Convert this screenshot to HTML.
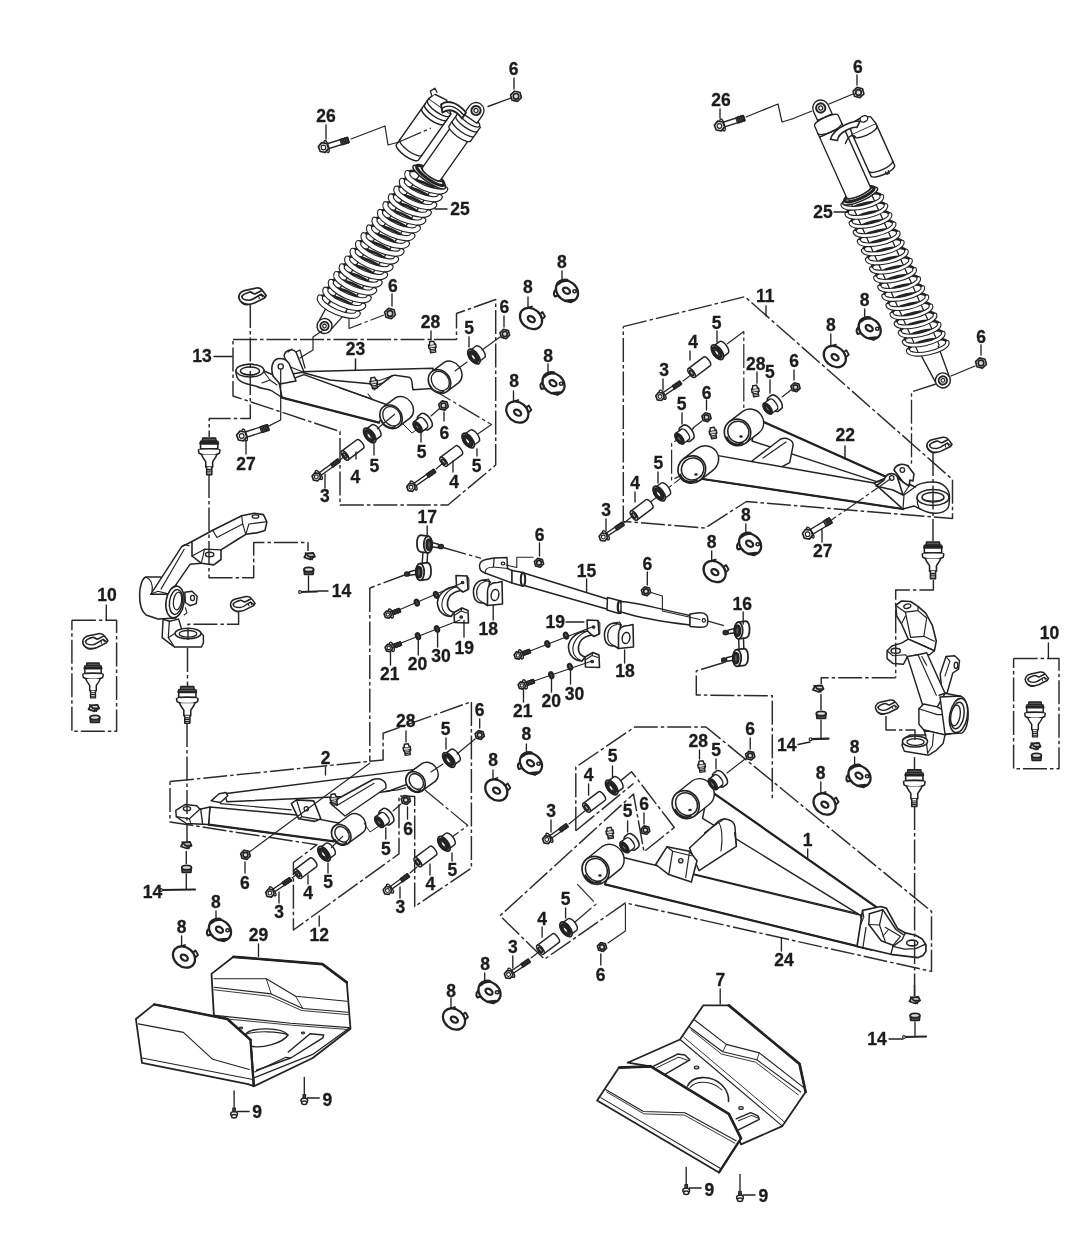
<!DOCTYPE html>
<html><head><meta charset="utf-8"><title>Front suspension parts diagram</title>
<style>
html,body{margin:0;padding:0;background:#fff;}
body{width:1066px;height:1257px;overflow:hidden;font-family:"Liberation Sans",sans-serif;}
svg{display:block;filter:grayscale(1);}
svg text{font-family:"Liberation Sans",sans-serif;font-weight:bold;fill:#1c1c1c;stroke:#1c1c1c;stroke-width:0.3px;}
svg *{stroke-linecap:round;stroke-linejoin:round;}
.dd{fill:none;stroke:#2a2a2a;stroke-dasharray:24 3 3.5 3;stroke-linecap:butt;}
</style></head>
<body>
<svg width="1066" height="1257" viewBox="0 0 1066 1257" stroke="#222" fill="none">
<rect x="0" y="0" width="1066" height="1257" fill="#fff" stroke="none"/>
<g transform="translate(324.5,326) rotate(-54.89) scale(1,1)">
<path d="M 2,-7.5 L 24,-10 L 24,10 L 2,7.5 Z" stroke-width="1.34" fill="#fff" />
<ellipse cx="0" cy="0" rx="7.5" ry="7.5" stroke-width="1.46" fill="#fff" />
<ellipse cx="0" cy="0" rx="4.2" ry="4.2" stroke-width="1.79" fill="#ddd" />
<ellipse cx="0" cy="0" rx="1.8" ry="1.8" stroke-width="1.12" fill="#fff" />
<path d="M 22,-9 L 180,-9 M 22,9 L 180,9" stroke-width="1.12" fill="none" />
<rect x="22" y="-9" width="158" height="18" fill="#fff" stroke="none"/>
<path d="M 22,-9 L 180,-9 M 22,9 L 180,9" stroke-width="1.12" fill="none" />
<g transform="rotate(-12 177.0 0)">
<path d="M 177.0,-20.5 A 7 20.5 0 0 1 177.0,20.5" stroke-width="2.69" fill="none" />
</g>
<g transform="rotate(-12 167.5 0)">
<path d="M 167.5,-20.5 A 7 20.5 0 0 1 167.5,20.5" stroke-width="2.69" fill="none" />
</g>
<g transform="rotate(-12 158.0 0)">
<path d="M 158.0,-20.5 A 7 20.5 0 0 1 158.0,20.5" stroke-width="2.69" fill="none" />
</g>
<g transform="rotate(-12 148.5 0)">
<path d="M 148.5,-20.5 A 7 20.5 0 0 1 148.5,20.5" stroke-width="2.69" fill="none" />
</g>
<g transform="rotate(-12 139.0 0)">
<path d="M 139.0,-20.5 A 7 20.5 0 0 1 139.0,20.5" stroke-width="2.69" fill="none" />
</g>
<g transform="rotate(-12 129.5 0)">
<path d="M 129.5,-20.5 A 7 20.5 0 0 1 129.5,20.5" stroke-width="2.69" fill="none" />
</g>
<g transform="rotate(-12 120.0 0)">
<path d="M 120.0,-20.5 A 7 20.5 0 0 1 120.0,20.5" stroke-width="2.69" fill="none" />
</g>
<g transform="rotate(-12 110.5 0)">
<path d="M 110.5,-20.5 A 7 20.5 0 0 1 110.5,20.5" stroke-width="2.69" fill="none" />
</g>
<g transform="rotate(-12 101.0 0)">
<path d="M 101.0,-20.5 A 7 20.5 0 0 1 101.0,20.5" stroke-width="2.69" fill="none" />
</g>
<g transform="rotate(-12 91.5 0)">
<path d="M 91.5,-20.5 A 7 20.5 0 0 1 91.5,20.5" stroke-width="2.69" fill="none" />
</g>
<g transform="rotate(-12 82.0 0)">
<path d="M 82.0,-20.5 A 7 20.5 0 0 1 82.0,20.5" stroke-width="2.69" fill="none" />
</g>
<g transform="rotate(-12 72.5 0)">
<path d="M 72.5,-20.5 A 7 20.5 0 0 1 72.5,20.5" stroke-width="2.69" fill="none" />
</g>
<g transform="rotate(-12 63.0 0)">
<path d="M 63.0,-20.5 A 7 20.5 0 0 1 63.0,20.5" stroke-width="2.69" fill="none" />
</g>
<g transform="rotate(-12 53.5 0)">
<path d="M 53.5,-20.5 A 7 20.5 0 0 1 53.5,20.5" stroke-width="2.69" fill="none" />
</g>
<g transform="rotate(-12 44.0 0)">
<path d="M 44.0,-20.5 A 7 20.5 0 0 1 44.0,20.5" stroke-width="2.69" fill="none" />
</g>
<g transform="rotate(-12 34.5 0)">
<path d="M 34.5,-20.5 A 7 20.5 0 0 1 34.5,20.5" stroke-width="2.69" fill="none" />
</g>
<g transform="rotate(-12 25.0 0)">
<path d="M 25.0,-20.5 A 7 20.5 0 0 1 25.0,20.5" stroke-width="2.69" fill="none" />
</g>
<g transform="rotate(-12 177.0 0)">
<path d="M 177.0,-20.5 A 7 20.5 0 0 0 177.0,20.5" stroke="#222" stroke-width="6.2" fill="none"/>
<path d="M 177.0,-20.5 A 7 20.5 0 0 0 177.0,20.5" stroke="#fff" stroke-width="4.0" fill="none"/>
</g>
<g transform="rotate(-12 167.5 0)">
<path d="M 167.5,-20.5 A 7 20.5 0 0 0 167.5,20.5" stroke="#222" stroke-width="6.2" fill="none"/>
<path d="M 167.5,-20.5 A 7 20.5 0 0 0 167.5,20.5" stroke="#fff" stroke-width="4.0" fill="none"/>
</g>
<g transform="rotate(-12 158.0 0)">
<path d="M 158.0,-20.5 A 7 20.5 0 0 0 158.0,20.5" stroke="#222" stroke-width="6.2" fill="none"/>
<path d="M 158.0,-20.5 A 7 20.5 0 0 0 158.0,20.5" stroke="#fff" stroke-width="4.0" fill="none"/>
</g>
<g transform="rotate(-12 148.5 0)">
<path d="M 148.5,-20.5 A 7 20.5 0 0 0 148.5,20.5" stroke="#222" stroke-width="6.2" fill="none"/>
<path d="M 148.5,-20.5 A 7 20.5 0 0 0 148.5,20.5" stroke="#fff" stroke-width="4.0" fill="none"/>
</g>
<g transform="rotate(-12 139.0 0)">
<path d="M 139.0,-20.5 A 7 20.5 0 0 0 139.0,20.5" stroke="#222" stroke-width="6.2" fill="none"/>
<path d="M 139.0,-20.5 A 7 20.5 0 0 0 139.0,20.5" stroke="#fff" stroke-width="4.0" fill="none"/>
</g>
<g transform="rotate(-12 129.5 0)">
<path d="M 129.5,-20.5 A 7 20.5 0 0 0 129.5,20.5" stroke="#222" stroke-width="6.2" fill="none"/>
<path d="M 129.5,-20.5 A 7 20.5 0 0 0 129.5,20.5" stroke="#fff" stroke-width="4.0" fill="none"/>
</g>
<g transform="rotate(-12 120.0 0)">
<path d="M 120.0,-20.5 A 7 20.5 0 0 0 120.0,20.5" stroke="#222" stroke-width="6.2" fill="none"/>
<path d="M 120.0,-20.5 A 7 20.5 0 0 0 120.0,20.5" stroke="#fff" stroke-width="4.0" fill="none"/>
</g>
<g transform="rotate(-12 110.5 0)">
<path d="M 110.5,-20.5 A 7 20.5 0 0 0 110.5,20.5" stroke="#222" stroke-width="6.2" fill="none"/>
<path d="M 110.5,-20.5 A 7 20.5 0 0 0 110.5,20.5" stroke="#fff" stroke-width="4.0" fill="none"/>
</g>
<g transform="rotate(-12 101.0 0)">
<path d="M 101.0,-20.5 A 7 20.5 0 0 0 101.0,20.5" stroke="#222" stroke-width="6.2" fill="none"/>
<path d="M 101.0,-20.5 A 7 20.5 0 0 0 101.0,20.5" stroke="#fff" stroke-width="4.0" fill="none"/>
</g>
<g transform="rotate(-12 91.5 0)">
<path d="M 91.5,-20.5 A 7 20.5 0 0 0 91.5,20.5" stroke="#222" stroke-width="6.2" fill="none"/>
<path d="M 91.5,-20.5 A 7 20.5 0 0 0 91.5,20.5" stroke="#fff" stroke-width="4.0" fill="none"/>
</g>
<g transform="rotate(-12 82.0 0)">
<path d="M 82.0,-20.5 A 7 20.5 0 0 0 82.0,20.5" stroke="#222" stroke-width="6.2" fill="none"/>
<path d="M 82.0,-20.5 A 7 20.5 0 0 0 82.0,20.5" stroke="#fff" stroke-width="4.0" fill="none"/>
</g>
<g transform="rotate(-12 72.5 0)">
<path d="M 72.5,-20.5 A 7 20.5 0 0 0 72.5,20.5" stroke="#222" stroke-width="6.2" fill="none"/>
<path d="M 72.5,-20.5 A 7 20.5 0 0 0 72.5,20.5" stroke="#fff" stroke-width="4.0" fill="none"/>
</g>
<g transform="rotate(-12 63.0 0)">
<path d="M 63.0,-20.5 A 7 20.5 0 0 0 63.0,20.5" stroke="#222" stroke-width="6.2" fill="none"/>
<path d="M 63.0,-20.5 A 7 20.5 0 0 0 63.0,20.5" stroke="#fff" stroke-width="4.0" fill="none"/>
</g>
<g transform="rotate(-12 53.5 0)">
<path d="M 53.5,-20.5 A 7 20.5 0 0 0 53.5,20.5" stroke="#222" stroke-width="6.2" fill="none"/>
<path d="M 53.5,-20.5 A 7 20.5 0 0 0 53.5,20.5" stroke="#fff" stroke-width="4.0" fill="none"/>
</g>
<g transform="rotate(-12 44.0 0)">
<path d="M 44.0,-20.5 A 7 20.5 0 0 0 44.0,20.5" stroke="#222" stroke-width="6.2" fill="none"/>
<path d="M 44.0,-20.5 A 7 20.5 0 0 0 44.0,20.5" stroke="#fff" stroke-width="4.0" fill="none"/>
</g>
<g transform="rotate(-12 34.5 0)">
<path d="M 34.5,-20.5 A 7 20.5 0 0 0 34.5,20.5" stroke="#222" stroke-width="6.2" fill="none"/>
<path d="M 34.5,-20.5 A 7 20.5 0 0 0 34.5,20.5" stroke="#fff" stroke-width="4.0" fill="none"/>
</g>
<g transform="rotate(-12 25.0 0)">
<path d="M 25.0,-20.5 A 7 20.5 0 0 0 25.0,20.5" stroke="#222" stroke-width="6.2" fill="none"/>
<path d="M 25.0,-20.5 A 7 20.5 0 0 0 25.0,20.5" stroke="#fff" stroke-width="4.0" fill="none"/>
</g>
<ellipse cx="182" cy="0" rx="5" ry="19.5" stroke-width="1.57" fill="#fff" />
<ellipse cx="184" cy="0" rx="4.2" ry="16.5" stroke-width="3.14" fill="#fff" />
<ellipse cx="186" cy="0" rx="3.4" ry="12.5" stroke-width="1.34" fill="#fff" />
<path d="M 186,-11 L 237.42456225644565,-11 L 237.42456225644565,11 L 186,11 A 3.4 11 0 0 1 186,-11" stroke-width="1.34" fill="#fff" />
<path d="M 240.42456225644565,-13.2 L 235.42456225644565,-13.2 A 4 13.2 0 0 0 235.42456225644565,13.2 L 240.42456225644565,13.2" stroke-width="1.34" fill="#fff" />
<path d="M 246.42456225644565,-13.2 L 241.42456225644565,-13.2 A 4 13.2 0 0 0 241.42456225644565,13.2 L 246.42456225644565,13.2" stroke-width="1.34" fill="#fff" />
<path d="M 252.42456225644565,-13.2 L 247.42456225644565,-13.2 A 4 13.2 0 0 0 247.42456225644565,13.2 L 252.42456225644565,13.2" stroke-width="1.34" fill="#fff" />
<path d="M 252.42456225644565,-12 A 4 12 0 0 0 252.42456225644565,12 A 4 12 0 0 0 252.42456225644565,-12" stroke-width="1.34" fill="#fff" />
<path d="M 253.42456225644565,-8 L 263.42456225644565,-8 A 8 8 0 0 1 263.42456225644565,8 L 253.42456225644565,8 Z" stroke-width="1.34" fill="#fff" />
<ellipse cx="263.42456225644565" cy="0" rx="4.6" ry="4.6" stroke-width="2.02" fill="#ddd" />
<ellipse cx="263.42456225644565" cy="0" rx="2" ry="2" stroke-width="1.12" fill="#fff" />
</g>
<g transform="translate(942.9,380.4) rotate(-114.16) scale(1,1)">
<path d="M 2,-7.5 L 36,-10 L 36,10 L 2,7.5 Z" stroke-width="1.34" fill="#fff" />
<ellipse cx="0" cy="0" rx="7.5" ry="7.5" stroke-width="1.46" fill="#fff" />
<ellipse cx="0" cy="0" rx="4.2" ry="4.2" stroke-width="1.79" fill="#ddd" />
<ellipse cx="0" cy="0" rx="1.8" ry="1.8" stroke-width="1.12" fill="#fff" />
<path d="M 34,-11 L 200,-11 M 34,11 L 200,11" stroke-width="1.12" fill="none" />
<rect x="34" y="-11" width="166" height="22" fill="#fff" stroke="none"/>
<path d="M 34,-11 L 200,-11 M 34,11 L 200,11" stroke-width="1.12" fill="none" />
<g transform="rotate(12 197.0 0)">
<path d="M 197.0,-20 A 6.5 20 0 0 1 197.0,20" stroke-width="2.69" fill="none" />
</g>
<g transform="rotate(12 187.0 0)">
<path d="M 187.0,-20 A 6.5 20 0 0 1 187.0,20" stroke-width="2.69" fill="none" />
</g>
<g transform="rotate(12 177.0 0)">
<path d="M 177.0,-20 A 6.5 20 0 0 1 177.0,20" stroke-width="2.69" fill="none" />
</g>
<g transform="rotate(12 167.0 0)">
<path d="M 167.0,-20 A 6.5 20 0 0 1 167.0,20" stroke-width="2.69" fill="none" />
</g>
<g transform="rotate(12 157.0 0)">
<path d="M 157.0,-20 A 6.5 20 0 0 1 157.0,20" stroke-width="2.69" fill="none" />
</g>
<g transform="rotate(12 147.0 0)">
<path d="M 147.0,-20 A 6.5 20 0 0 1 147.0,20" stroke-width="2.69" fill="none" />
</g>
<g transform="rotate(12 137.0 0)">
<path d="M 137.0,-20 A 6.5 20 0 0 1 137.0,20" stroke-width="2.69" fill="none" />
</g>
<g transform="rotate(12 127.0 0)">
<path d="M 127.0,-20 A 6.5 20 0 0 1 127.0,20" stroke-width="2.69" fill="none" />
</g>
<g transform="rotate(12 117.0 0)">
<path d="M 117.0,-20 A 6.5 20 0 0 1 117.0,20" stroke-width="2.69" fill="none" />
</g>
<g transform="rotate(12 107.0 0)">
<path d="M 107.0,-20 A 6.5 20 0 0 1 107.0,20" stroke-width="2.69" fill="none" />
</g>
<g transform="rotate(12 97.0 0)">
<path d="M 97.0,-20 A 6.5 20 0 0 1 97.0,20" stroke-width="2.69" fill="none" />
</g>
<g transform="rotate(12 87.0 0)">
<path d="M 87.0,-20 A 6.5 20 0 0 1 87.0,20" stroke-width="2.69" fill="none" />
</g>
<g transform="rotate(12 77.0 0)">
<path d="M 77.0,-20 A 6.5 20 0 0 1 77.0,20" stroke-width="2.69" fill="none" />
</g>
<g transform="rotate(12 67.0 0)">
<path d="M 67.0,-20 A 6.5 20 0 0 1 67.0,20" stroke-width="2.69" fill="none" />
</g>
<g transform="rotate(12 57.0 0)">
<path d="M 57.0,-20 A 6.5 20 0 0 1 57.0,20" stroke-width="2.69" fill="none" />
</g>
<g transform="rotate(12 47.0 0)">
<path d="M 47.0,-20 A 6.5 20 0 0 1 47.0,20" stroke-width="2.69" fill="none" />
</g>
<g transform="rotate(12 37.0 0)">
<path d="M 37.0,-20 A 6.5 20 0 0 1 37.0,20" stroke-width="2.69" fill="none" />
</g>
<g transform="rotate(12 197.0 0)">
<path d="M 197.0,-20 A 6.5 20 0 0 0 197.0,20" stroke="#222" stroke-width="4.8" fill="none"/>
<path d="M 197.0,-20 A 6.5 20 0 0 0 197.0,20" stroke="#fff" stroke-width="2.5999999999999996" fill="none"/>
</g>
<g transform="rotate(12 187.0 0)">
<path d="M 187.0,-20 A 6.5 20 0 0 0 187.0,20" stroke="#222" stroke-width="4.8" fill="none"/>
<path d="M 187.0,-20 A 6.5 20 0 0 0 187.0,20" stroke="#fff" stroke-width="2.5999999999999996" fill="none"/>
</g>
<g transform="rotate(12 177.0 0)">
<path d="M 177.0,-20 A 6.5 20 0 0 0 177.0,20" stroke="#222" stroke-width="4.8" fill="none"/>
<path d="M 177.0,-20 A 6.5 20 0 0 0 177.0,20" stroke="#fff" stroke-width="2.5999999999999996" fill="none"/>
</g>
<g transform="rotate(12 167.0 0)">
<path d="M 167.0,-20 A 6.5 20 0 0 0 167.0,20" stroke="#222" stroke-width="4.8" fill="none"/>
<path d="M 167.0,-20 A 6.5 20 0 0 0 167.0,20" stroke="#fff" stroke-width="2.5999999999999996" fill="none"/>
</g>
<g transform="rotate(12 157.0 0)">
<path d="M 157.0,-20 A 6.5 20 0 0 0 157.0,20" stroke="#222" stroke-width="4.8" fill="none"/>
<path d="M 157.0,-20 A 6.5 20 0 0 0 157.0,20" stroke="#fff" stroke-width="2.5999999999999996" fill="none"/>
</g>
<g transform="rotate(12 147.0 0)">
<path d="M 147.0,-20 A 6.5 20 0 0 0 147.0,20" stroke="#222" stroke-width="4.8" fill="none"/>
<path d="M 147.0,-20 A 6.5 20 0 0 0 147.0,20" stroke="#fff" stroke-width="2.5999999999999996" fill="none"/>
</g>
<g transform="rotate(12 137.0 0)">
<path d="M 137.0,-20 A 6.5 20 0 0 0 137.0,20" stroke="#222" stroke-width="4.8" fill="none"/>
<path d="M 137.0,-20 A 6.5 20 0 0 0 137.0,20" stroke="#fff" stroke-width="2.5999999999999996" fill="none"/>
</g>
<g transform="rotate(12 127.0 0)">
<path d="M 127.0,-20 A 6.5 20 0 0 0 127.0,20" stroke="#222" stroke-width="4.8" fill="none"/>
<path d="M 127.0,-20 A 6.5 20 0 0 0 127.0,20" stroke="#fff" stroke-width="2.5999999999999996" fill="none"/>
</g>
<g transform="rotate(12 117.0 0)">
<path d="M 117.0,-20 A 6.5 20 0 0 0 117.0,20" stroke="#222" stroke-width="4.8" fill="none"/>
<path d="M 117.0,-20 A 6.5 20 0 0 0 117.0,20" stroke="#fff" stroke-width="2.5999999999999996" fill="none"/>
</g>
<g transform="rotate(12 107.0 0)">
<path d="M 107.0,-20 A 6.5 20 0 0 0 107.0,20" stroke="#222" stroke-width="4.8" fill="none"/>
<path d="M 107.0,-20 A 6.5 20 0 0 0 107.0,20" stroke="#fff" stroke-width="2.5999999999999996" fill="none"/>
</g>
<g transform="rotate(12 97.0 0)">
<path d="M 97.0,-20 A 6.5 20 0 0 0 97.0,20" stroke="#222" stroke-width="4.8" fill="none"/>
<path d="M 97.0,-20 A 6.5 20 0 0 0 97.0,20" stroke="#fff" stroke-width="2.5999999999999996" fill="none"/>
</g>
<g transform="rotate(12 87.0 0)">
<path d="M 87.0,-20 A 6.5 20 0 0 0 87.0,20" stroke="#222" stroke-width="4.8" fill="none"/>
<path d="M 87.0,-20 A 6.5 20 0 0 0 87.0,20" stroke="#fff" stroke-width="2.5999999999999996" fill="none"/>
</g>
<g transform="rotate(12 77.0 0)">
<path d="M 77.0,-20 A 6.5 20 0 0 0 77.0,20" stroke="#222" stroke-width="4.8" fill="none"/>
<path d="M 77.0,-20 A 6.5 20 0 0 0 77.0,20" stroke="#fff" stroke-width="2.5999999999999996" fill="none"/>
</g>
<g transform="rotate(12 67.0 0)">
<path d="M 67.0,-20 A 6.5 20 0 0 0 67.0,20" stroke="#222" stroke-width="4.8" fill="none"/>
<path d="M 67.0,-20 A 6.5 20 0 0 0 67.0,20" stroke="#fff" stroke-width="2.5999999999999996" fill="none"/>
</g>
<g transform="rotate(12 57.0 0)">
<path d="M 57.0,-20 A 6.5 20 0 0 0 57.0,20" stroke="#222" stroke-width="4.8" fill="none"/>
<path d="M 57.0,-20 A 6.5 20 0 0 0 57.0,20" stroke="#fff" stroke-width="2.5999999999999996" fill="none"/>
</g>
<g transform="rotate(12 47.0 0)">
<path d="M 47.0,-20 A 6.5 20 0 0 0 47.0,20" stroke="#222" stroke-width="4.8" fill="none"/>
<path d="M 47.0,-20 A 6.5 20 0 0 0 47.0,20" stroke="#fff" stroke-width="2.5999999999999996" fill="none"/>
</g>
<g transform="rotate(12 37.0 0)">
<path d="M 37.0,-20 A 6.5 20 0 0 0 37.0,20" stroke="#222" stroke-width="4.8" fill="none"/>
<path d="M 37.0,-20 A 6.5 20 0 0 0 37.0,20" stroke="#fff" stroke-width="2.5999999999999996" fill="none"/>
</g>
<ellipse cx="202" cy="0" rx="5" ry="19" stroke-width="1.57" fill="#fff" />
<ellipse cx="204" cy="0" rx="4.2" ry="16" stroke-width="3.14" fill="#fff" />
<ellipse cx="206" cy="0" rx="3.4" ry="14.5" stroke-width="1.34" fill="#fff" />
<path d="M 206,-13 L 272.5541826871631,-13 L 272.5541826871631,13 L 206,13 A 3.4 13 0 0 1 206,-13" stroke-width="1.34" fill="#fff" />
<path d="M 272.5541826871631,-13 L 284.5541826871631,-13 C 289.5541826871631,-13 289.5541826871631,13 284.5541826871631,13 L 272.5541826871631,13 Z" stroke-width="1.34" fill="#fff" />
<path d="M 276.5541826871631,-13 A 4 13 0 0 0 276.5541826871631,13" stroke-width="1.23" fill="none" />
<path d="M 288.5541826871631,-8 L 298.5541826871631,-8 A 8 8 0 0 1 298.5541826871631,8 L 288.5541826871631,8 Z" stroke-width="1.34" fill="#fff" />
<ellipse cx="298.5541826871631" cy="0" rx="4.6" ry="4.6" stroke-width="2.02" fill="#ddd" />
<ellipse cx="298.5541826871631" cy="0" rx="2" ry="2" stroke-width="1.12" fill="#fff" />
</g>
<g transform="translate(324.5,326) rotate(-54.89) scale(1,1)">
<path d="M 190,-45.5 L 246,-45.5 L 246,-18.5 L 190,-18.5 A 4.5 13.5 0 0 1 190,-45.5 Z" stroke-width="1.46" fill="#fff" />
<path d="M 196,-45.5 A 4.5 13.5 0 0 0 196,-18.5" stroke-width="1.34" fill="none" />
<path d="M 234,-45.5 A 4.5 13.5 0 0 0 234,-18.5" stroke-width="1.46" fill="none" />
<path d="M 239,-45.5 A 4.5 13.5 0 0 0 239,-18.5" stroke-width="1.46" fill="none" />
<path d="M 244,-45.5 A 4.5 13.5 0 0 0 244,-18.5" stroke-width="1.46" fill="none" />
<path d="M 246,-45.5 L 253,-43.5 L 255,-30 L 246,-18.5" stroke-width="1.46" fill="#fff" />
<path d="M 250,-44.5 l 3,-4 l 5,2 l -2,4" stroke-width="1.34" fill="#fff" />
</g>
<path d="M 441,104.5 C 447,99.5 457,102 466,112.5 L 462,118.5 C 456,110 449,108.5 442.5,112.5 Z" stroke-width="1.9" fill="#fff" />
<path d="M 442,108.5 C 448,104 456,106 464,115.5" stroke-width="1.34" fill="none" />
<g transform="translate(323.5,147.5) rotate(-17) scale(1,1)">
<path d="M 3,-2.5 L 26,-2.5 L 26,2.5 L 3,2.5 Z" stroke-width="1.34" fill="#fff" />
<path d="M 18,-2.8 L 26,-2.8 L 26,2.8 L 18,2.8 Z" stroke-width="1.12" fill="#555" />
<path d="M 25.1,-3.0 L 25.1,3.0" stroke-width="1.34" fill="none" />
<path d="M 23.3,-3.0 L 23.3,3.0" stroke-width="1.34" fill="none" />
<path d="M 21.5,-3.0 L 21.5,3.0" stroke-width="1.34" fill="none" />
<path d="M 19.700000000000003,-3.0 L 19.700000000000003,3.0" stroke-width="1.34" fill="none" />
<ellipse cx="3.2" cy="0" rx="1.8" ry="6.2" stroke-width="1.46" fill="#fff" />
</g>
<polygon points="328.6,148.4 325.3,152.4 320.2,151.5 318.4,146.6 321.7,142.6 326.8,143.5" stroke-width="1.68" fill="#fff" />
<ellipse cx="323.5" cy="147.5" rx="2.3400000000000003" ry="2.3400000000000003" stroke-width="1.12" fill="#fff" />
<polyline points="351,139 385,126 388,145 399,142" fill="none" stroke-width="1.2"/>
<polyline points="399,142 431,128" class="dd" stroke-width="1.34"/>
<line x1="326" y1="125" x2="326" y2="139" stroke-width="1.34" />
<line x1="488" y1="106.5" x2="511" y2="98" stroke-width="1.34" />
<polygon points="521.4,97.7 517.4,101.4 512.0,100.1 510.6,94.9 514.6,91.2 520.0,92.5" stroke-width="1.68" fill="#fff" />
<ellipse cx="516" cy="96.3" rx="2.8" ry="2.8" stroke-width="1.68" fill="#d8d8d8" />
<line x1="514" y1="78" x2="514" y2="89" stroke-width="1.34" />
<polyline points="349,318 349,328.5 384,315" class="dd" stroke-width="1.2"/>
<polygon points="395.4,314.9 391.4,318.6 386.0,317.3 384.6,312.1 388.6,308.4 394.0,309.7" stroke-width="1.68" fill="#fff" />
<ellipse cx="390" cy="313.5" rx="2.8" ry="2.8" stroke-width="1.68" fill="#d8d8d8" />
<line x1="392" y1="294" x2="392" y2="306" stroke-width="1.34" />
<line x1="435" y1="209" x2="447" y2="209" stroke-width="1.46" />
<polyline points="233,339.5 456.5,339.5 456.5,313.5 495.7,299.5 495.7,465 448,505 340,505 340,431.5 233,396 233,339.5" class="dd" stroke-width="1.46"/>
<line x1="214" y1="356.4" x2="232" y2="356.4" stroke-width="1.46" />
<g transform="translate(252.4,296) rotate(0) scale(1.0,1.0)">
<path d="M -13.6,0.5 C -13,-3 -10,-5 -7,-5.6 L 4,-8 C 7,-8.3 9,-7 10,-5.5 L 13.8,-0.5 L 12.2,2 L 2,7 C -1,8.2 -5,8.6 -8,7.6 C -11,6.5 -13.4,4 -13.6,0.5 Z" stroke-width="1.68" fill="#fff" />
<path d="M -10.5,0.5 C -10,-1.5 -6,-3 -2.5,-4 C -0.5,-4.3 1,-1.5 3,-2.2 L 9,-5.3" stroke-width="1.79" fill="none" />
<path d="M -10.5,0.5 C -10.5,3 -7,4.2 -3,4.2 C 0,4 2,2.5 4,1 L 8.6,-1.8 L 12.2,0.6" stroke-width="1.57" fill="none" />
<path d="M -13.6,0.5 L -13.2,2.6 C -12.5,6 -9,8.8 -6,9 L -3,8.6" stroke-width="1.23" fill="none" />
<path d="M 6,-0.3 L 7,2.5 M 9,-1.7 L 10,1" stroke-width="1.12" fill="none" />
</g>
<g transform="translate(209.2,438) rotate(0) scale(1.08,1.08)">
<path d="M -6,0 L 6,0 L 6.5,3 L -6.5,3 Z" stroke-width="1.34" fill="#555" />
<path d="M -8,3 L 8,3 L 8,10 L -8,10 Z" stroke-width="1.46" fill="#fff" />
<path d="M -8,5 L 8,5" stroke-width="2.46" fill="none" />
<path d="M -10,11 C -10,9.5 10,9.5 10,11 L 9.5,14 C 6,16.5 -6,16.5 -9.5,14 Z" stroke-width="1.46" fill="#fff" />
<path d="M -7,15.5 C -6,19 -4,20 -3.2,22 L -3.2,27 L 3.2,27 L 3.2,22 C 4,20 6,19 7,15.5" stroke-width="1.46" fill="#fff" />
<path d="M -2.4,27 L -2.4,34 L 2.4,34 L 2.4,27" stroke-width="1.34" fill="#fff" />
<path d="M -2.4,29 L 2.4,29 M -2.4,30.7 L 2.4,30.7 M -2.4,32.4 L 2.4,32.4" stroke-width="1.12" fill="none" />
</g>
<path d="M 300,371.8 L 433,368.3 L 432,388.6 L 413,389.8 C 411.5,384 413,378 409,377.3 L 395,375.2 C 388,374.8 386,384 378,384.4 L 330,380 Z" stroke-width="1.46" fill="#fff" />
<path d="M 374,390 L 392,376" stroke-width="1.12" fill="none" />
<path d="M 304,374.6 L 389,405.5 L 379,422.6 L 282,397.6 L 277,384.5 Z" stroke-width="1.46" fill="#fff" />
<path d="M 282,397.6 L 379,422.6" stroke-width="2.24" fill="none" />
<path d="M 340,388 L 372,399 L 368,394" stroke-width="1.12" fill="none" />
<path d="M 236,371 C 236,367 242,364.3 250,364.3 C 258,364.3 263.5,367 264,371 L 278,377 L 282,397.5 L 272,391 C 268,388.5 262,389 258,387 C 252,384 244,385 239,380 C 236.5,377.5 236,374 236,371 Z" stroke-width="1.46" fill="#fff" />
<ellipse cx="250" cy="370.6" rx="14" ry="6.3" stroke-width="1.46" fill="#fff" />
<ellipse cx="250" cy="371" rx="9.6" ry="4.1" stroke-width="1.46" fill="#fff" />
<path d="M 240.6,371.8 C 242,375.5 258,375.5 259.4,371.8" stroke-width="1.12" fill="none" />
<path d="M 264,372 L 270,380 L 262,383 M 270,380 L 277,385" stroke-width="1.12" fill="none" />
<path d="M 284,356 C 285,350 292,348 296,352 L 304,372 L 292,374 Z" stroke-width="1.46" fill="#fff" />
<path d="M 288,352 L 292,349 M 296,352 L 300,350 L 305,368" stroke-width="1.23" fill="none" />
<path d="M 273,376 C 270,366 273,358.5 280,358.5 C 286,358.5 289,362 290.5,367 L 296,381 L 280,384 Z" stroke-width="1.57" fill="#fff" />
<ellipse cx="280.7" cy="366.5" rx="2.6" ry="2.6" stroke-width="1.34" fill="#fff" />
<path d="M 290.5,367 L 303,372" stroke-width="1.12" fill="none" />
<path d="M 446.8,391.6 L 458.8,382.6 A 10.5 12.5 -36 0 0 444.2,362.4 L 432.2,371.4 Z" stroke-width="1.46" fill="#fff" />
<ellipse cx="439.5" cy="381.5" rx="10.5" ry="12.5" stroke-width="1.57" fill="#fff" transform="rotate(-36 439.5 381.5)" />
<ellipse cx="440.3" cy="381.0" rx="8.3" ry="10.3" stroke-width="1.34" fill="#fff" transform="rotate(-36 440.3 381.0)" />
<path d="M 430.0,385.5 A 8.3 10.3 -36 0 0 443.5,391.5" stroke-width="1.79" fill="none" />
<path d="M 398.3,426.9 L 410.3,417.9 A 10.5 12.5 -36 0 0 395.7,397.7 L 383.7,406.7 Z" stroke-width="1.46" fill="#fff" />
<ellipse cx="391" cy="416.8" rx="10.5" ry="12.5" stroke-width="1.57" fill="#fff" transform="rotate(-36 391 416.8)" />
<ellipse cx="391.8" cy="416.3" rx="8.3" ry="10.3" stroke-width="1.34" fill="#fff" transform="rotate(-36 391.8 416.3)" />
<path d="M 381.5,420.8 A 8.3 10.3 -36 0 0 395,426.8" stroke-width="1.79" fill="none" />
<g transform="translate(374,383.5) rotate(-12) scale(1,1)">
<path d="M -3.6,-3 L 3.6,-3 L 3.6,0.5 L -3.6,0.5 Z" stroke-width="1.46" fill="#ccc" />
<path d="M -2.6,-3 L -2,-6 L 2,-6 L 2.6,-3" stroke-width="1.46" fill="#fff" />
<path d="M -2.6,0.5 L -2.6,5 L 2.6,5 L 2.6,0.5" stroke-width="1.34" fill="#fff" />
<path d="M -2.6,2 L 2.6,2 M -2.6,3.5 L 2.6,3.5" stroke-width="1.01" fill="none" />
</g>
<line x1="378" y1="381" x2="392" y2="376" stroke-width="1.12" />
<line x1="355.5" y1="359" x2="355.5" y2="370" stroke-width="1.46" />
<g transform="translate(432.5,347.5) rotate(-8) scale(1,1)">
<path d="M -3.6,-3 L 3.6,-3 L 3.6,0.5 L -3.6,0.5 Z" stroke-width="1.46" fill="#ccc" />
<path d="M -2.6,-3 L -2,-6 L 2,-6 L 2.6,-3" stroke-width="1.46" fill="#fff" />
<path d="M -2.6,0.5 L -2.6,5 L 2.6,5 L 2.6,0.5" stroke-width="1.34" fill="#fff" />
<path d="M -2.6,2 L 2.6,2 M -2.6,3.5 L 2.6,3.5" stroke-width="1.01" fill="none" />
</g>
<line x1="431" y1="331" x2="431" y2="340" stroke-width="1.34" />
<g transform="translate(474.7,356) rotate(-37) scale(1,1)">
<path d="M 0,-7.2 L 7,-7.2 A 3.2 7.2 0 0 1 7,7.2 L 0,7.2 Z" stroke-width="1.46" fill="#fff" />
<ellipse cx="-1" cy="0" rx="4.3" ry="8.6" stroke-width="1.79" fill="#fff" />
<ellipse cx="-1.6" cy="0" rx="3.0" ry="5.8" stroke-width="3.36" fill="#888" />
<ellipse cx="-1.8" cy="0" rx="1.4" ry="3.0" stroke-width="1.12" fill="#fff" />
</g>
<line x1="469" y1="337" x2="469" y2="347" stroke-width="1.34" />
<line x1="455" y1="371" x2="467" y2="362" stroke-width="1.12" />
<line x1="482" y1="350" x2="500" y2="337" stroke-width="1.12" />
<polygon points="509.6,335.2 506.1,338.6 501.3,337.4 500.0,332.8 503.5,329.4 508.3,330.6" stroke-width="1.68" fill="#fff" />
<ellipse cx="504.8" cy="334" rx="2.5" ry="2.5" stroke-width="1.68" fill="#d8d8d8" />
<line x1="504" y1="316" x2="504" y2="327" stroke-width="1.34" />
<polygon points="448.3,406.7 444.8,410.1 440.0,408.9 438.7,404.3 442.2,400.9 447.0,402.1" stroke-width="1.68" fill="#fff" />
<ellipse cx="443.5" cy="405.5" rx="2.5" ry="2.5" stroke-width="1.68" fill="#d8d8d8" />
<line x1="444" y1="412" x2="444" y2="421" stroke-width="1.34" />
<g transform="translate(424.8,421.6) rotate(-37) scale(1,1)">
<path d="M -2,-8.4 L 2,-8.4 A 4 8.4 0 0 1 2,8.4 L -2,8.4 A 4 8.4 0 0 1 -2,-8.4 Z" stroke-width="1.57" fill="#fff" />
<path d="M -9,-6.4 L -2,-6.4 A 3 6.4 0 0 1 -2,6.4 L -9,6.4 Z" stroke-width="1.46" fill="#fff" />
<ellipse cx="-9" cy="0" rx="3.0" ry="6.4" stroke-width="1.68" fill="#fff" />
<ellipse cx="-9.3" cy="0" rx="2.0" ry="4.4" stroke-width="2.91" fill="#888" />
</g>
<line x1="421" y1="432" x2="421" y2="442" stroke-width="1.34" />
<polyline points="403,424 412,433 419,428" fill="none" stroke-width="1.0"/>
<line x1="431" y1="416" x2="439" y2="409" stroke-width="1.12" />
<g transform="translate(370.5,434.8) rotate(-37) scale(1,1)">
<path d="M 0,-7.2 L 7,-7.2 A 3.2 7.2 0 0 1 7,7.2 L 0,7.2 Z" stroke-width="1.46" fill="#fff" />
<ellipse cx="-1" cy="0" rx="4.3" ry="8.6" stroke-width="1.79" fill="#fff" />
<ellipse cx="-1.6" cy="0" rx="3.0" ry="5.8" stroke-width="3.36" fill="#888" />
<ellipse cx="-1.8" cy="0" rx="1.4" ry="3.0" stroke-width="1.12" fill="#fff" />
</g>
<line x1="374" y1="444" x2="374" y2="455" stroke-width="1.34" />
<polyline points="395,414 377,429" class="dd" stroke-width="1.23"/>
<g transform="translate(352.5,449.8) rotate(-37) scale(1,1)">
<path d="M -9.5,-5.4 L 9.5,-5.4 A 2.43 5.4 0 0 1 9.5,5.4 L -9.5,5.4 Z" stroke-width="1.46" fill="#fff" />
<ellipse cx="-9.5" cy="0" rx="2.43" ry="5.4" stroke-width="1.46" fill="#fff" />
<ellipse cx="-9.5" cy="0" rx="1.4580000000000002" ry="2.9700000000000006" stroke-width="1.79" fill="#bbb" />
</g>
<line x1="356" y1="452" x2="356" y2="459" stroke-width="1.34" />
<g transform="translate(316.3,476.8) rotate(-36) scale(1,1)">
<path d="M 3,-1.6 L 28,-1.6 L 28,1.6 L 3,1.6 Z" stroke-width="1.34" fill="#fff" />
<path d="M 19,-1.9000000000000001 L 28,-1.9000000000000001 L 28,1.9000000000000001 L 19,1.9000000000000001 Z" stroke-width="1.12" fill="#555" />
<path d="M 27.1,-2.1 L 27.1,2.1" stroke-width="1.34" fill="none" />
<path d="M 25.3,-2.1 L 25.3,2.1" stroke-width="1.34" fill="none" />
<path d="M 23.5,-2.1 L 23.5,2.1" stroke-width="1.34" fill="none" />
<path d="M 21.700000000000003,-2.1 L 21.700000000000003,2.1" stroke-width="1.34" fill="none" />
<path d="M 19.900000000000002,-2.1 L 19.900000000000002,2.1" stroke-width="1.34" fill="none" />
<ellipse cx="3.2" cy="0" rx="1.8" ry="5.3" stroke-width="1.46" fill="#fff" />
</g>
<polygon points="320.5,477.5 317.8,480.8 313.5,480.1 312.1,476.1 314.8,472.8 319.1,473.5" stroke-width="1.68" fill="#fff" />
<ellipse cx="316.3" cy="476.8" rx="1.935" ry="1.935" stroke-width="1.12" fill="#fff" />
<line x1="325" y1="474" x2="325" y2="488" stroke-width="1.34" />
<polyline points="340,460 346,455" class="dd" stroke-width="1.12"/>
<g transform="translate(469,440) rotate(-37) scale(1,1)">
<path d="M 0,-7.2 L 7,-7.2 A 3.2 7.2 0 0 1 7,7.2 L 0,7.2 Z" stroke-width="1.46" fill="#fff" />
<ellipse cx="-1" cy="0" rx="4.3" ry="8.6" stroke-width="1.79" fill="#fff" />
<ellipse cx="-1.6" cy="0" rx="3.0" ry="5.8" stroke-width="3.36" fill="#888" />
<ellipse cx="-1.8" cy="0" rx="1.4" ry="3.0" stroke-width="1.12" fill="#fff" />
</g>
<line x1="477" y1="449" x2="477" y2="456" stroke-width="1.34" />
<polyline points="430,388 491.5,424.5 477,434.5" class="dd" stroke-width="1.23"/>
<g transform="translate(451.2,456) rotate(-37) scale(1,1)">
<path d="M -9.5,-5.4 L 9.5,-5.4 A 2.43 5.4 0 0 1 9.5,5.4 L -9.5,5.4 Z" stroke-width="1.46" fill="#fff" />
<ellipse cx="-9.5" cy="0" rx="2.43" ry="5.4" stroke-width="1.46" fill="#fff" />
<ellipse cx="-9.5" cy="0" rx="1.4580000000000002" ry="2.9700000000000006" stroke-width="1.79" fill="#bbb" />
</g>
<line x1="453" y1="461" x2="453" y2="472" stroke-width="1.34" />
<g transform="translate(411,487.3) rotate(-35) scale(1,1)">
<path d="M 3,-1.6 L 29,-1.6 L 29,1.6 L 3,1.6 Z" stroke-width="1.34" fill="#fff" />
<path d="M 20,-1.9000000000000001 L 29,-1.9000000000000001 L 29,1.9000000000000001 L 20,1.9000000000000001 Z" stroke-width="1.12" fill="#555" />
<path d="M 28.1,-2.1 L 28.1,2.1" stroke-width="1.34" fill="none" />
<path d="M 26.3,-2.1 L 26.3,2.1" stroke-width="1.34" fill="none" />
<path d="M 24.5,-2.1 L 24.5,2.1" stroke-width="1.34" fill="none" />
<path d="M 22.700000000000003,-2.1 L 22.700000000000003,2.1" stroke-width="1.34" fill="none" />
<path d="M 20.900000000000002,-2.1 L 20.900000000000002,2.1" stroke-width="1.34" fill="none" />
<ellipse cx="3.2" cy="0" rx="1.8" ry="5.3" stroke-width="1.46" fill="#fff" />
</g>
<polygon points="415.2,488.0 412.5,491.3 408.2,490.6 406.8,486.6 409.5,483.3 413.8,484.0" stroke-width="1.68" fill="#fff" />
<ellipse cx="411" cy="487.3" rx="1.935" ry="1.935" stroke-width="1.12" fill="#fff" />
<line x1="436" y1="469" x2="443" y2="463" stroke-width="1.12" />
<g transform="translate(241.7,436) rotate(-18) scale(1,1)">
<path d="M 3,-2.7 L 28,-2.7 L 28,2.7 L 3,2.7 Z" stroke-width="1.34" fill="#fff" />
<path d="M 20,-3.0 L 28,-3.0 L 28,3.0 L 20,3.0 Z" stroke-width="1.12" fill="#555" />
<path d="M 27.1,-3.2 L 27.1,3.2" stroke-width="1.34" fill="none" />
<path d="M 25.3,-3.2 L 25.3,3.2" stroke-width="1.34" fill="none" />
<path d="M 23.5,-3.2 L 23.5,3.2" stroke-width="1.34" fill="none" />
<path d="M 21.700000000000003,-3.2 L 21.700000000000003,3.2" stroke-width="1.34" fill="none" />
<ellipse cx="3.2" cy="0" rx="1.8" ry="6.2" stroke-width="1.46" fill="#fff" />
</g>
<polygon points="246.8,436.9 243.5,440.9 238.4,440.0 236.6,435.1 239.9,431.1 245.0,432.0" stroke-width="1.68" fill="#fff" />
<ellipse cx="241.7" cy="436" rx="2.3400000000000003" ry="2.3400000000000003" stroke-width="1.12" fill="#fff" />
<polyline points="268,426.4 280.7,420 280.7,369" fill="none" stroke-width="1.2"/>
<line x1="246" y1="441" x2="246" y2="454" stroke-width="1.34" />
<polyline points="322,331 313,337 313,350 300,358" fill="none" stroke-width="1.2"/>
<g transform="translate(567,291) rotate(0) scale(1,1)">
<path d="M -9.5,-1.5 C -13.5,-1 -14,3 -12,5.5 L -8.5,4.5" stroke-width="2.02" fill="#fff" />
<ellipse cx="0" cy="0" rx="12" ry="9.6" stroke-width="2.24" fill="#fff" transform="rotate(40 0 0)" />
<ellipse cx="-0.5" cy="-0.3" rx="3.9" ry="2.6" stroke-width="2.24" fill="#fff" transform="rotate(35 -0.5 -0.3)" />
<ellipse cx="7.6" cy="0.3" rx="1.7" ry="1.5" stroke-width="1.57" fill="#fff" />
<path d="M -1.5,9.3 L 4,11.6 L 6.5,8.6 Z" stroke-width="1.57" fill="#222" />
<path d="M -9,-7.5 C -6,-10.5 -3,-11 0,-10.6" stroke-width="3.36" fill="none" />
</g>
<line x1="562" y1="271" x2="562" y2="280" stroke-width="1.34" />
<g transform="translate(531,318.5) rotate(0) scale(1,1)">
<path d="M 9,-4.5 L 11.5,-6.5 L 14,-2 L 11,0.8 Z" stroke-width="1.79" fill="#fff" />
<path d="M -3.5,-10.6 L 1,-12 L -0.5,-10" stroke-width="1.79" fill="none" />
<ellipse cx="0" cy="0" rx="12" ry="9.6" stroke-width="2.24" fill="#fff" transform="rotate(40 0 0)" />
<ellipse cx="0.3" cy="0.6" rx="3.9" ry="2.6" stroke-width="2.24" fill="#fff" transform="rotate(35 0.3 0.6)" />
</g>
<line x1="528" y1="297" x2="528" y2="307" stroke-width="1.34" />
<g transform="translate(553.5,383.5) rotate(0) scale(1,1)">
<path d="M -9.5,-1.5 C -13.5,-1 -14,3 -12,5.5 L -8.5,4.5" stroke-width="2.02" fill="#fff" />
<ellipse cx="0" cy="0" rx="12" ry="9.6" stroke-width="2.24" fill="#fff" transform="rotate(40 0 0)" />
<ellipse cx="-0.5" cy="-0.3" rx="3.9" ry="2.6" stroke-width="2.24" fill="#fff" transform="rotate(35 -0.5 -0.3)" />
<ellipse cx="7.6" cy="0.3" rx="1.7" ry="1.5" stroke-width="1.57" fill="#fff" />
<path d="M -1.5,9.3 L 4,11.6 L 6.5,8.6 Z" stroke-width="1.57" fill="#222" />
<path d="M -9,-7.5 C -6,-10.5 -3,-11 0,-10.6" stroke-width="3.36" fill="none" />
</g>
<line x1="548" y1="364" x2="548" y2="373" stroke-width="1.34" />
<g transform="translate(517.3,412) rotate(0) scale(1,1)">
<path d="M 9,-4.5 L 11.5,-6.5 L 14,-2 L 11,0.8 Z" stroke-width="1.79" fill="#fff" />
<path d="M -3.5,-10.6 L 1,-12 L -0.5,-10" stroke-width="1.79" fill="none" />
<ellipse cx="0" cy="0" rx="12" ry="9.6" stroke-width="2.24" fill="#fff" transform="rotate(40 0 0)" />
<ellipse cx="0.3" cy="0.6" rx="3.9" ry="2.6" stroke-width="2.24" fill="#fff" transform="rotate(35 0.3 0.6)" />
</g>
<line x1="513.5" y1="391" x2="513.5" y2="401" stroke-width="1.34" />
<g transform="translate(942.9,380.4) rotate(-114.16) scale(1,1)">
<path d="M 216,18 L 262,18 L 262,44 L 216,44 A 4 13 0 0 1 216,18 Z" stroke-width="1.46" fill="#fff" />
<path d="M 221,18 A 4 13 0 0 0 221,44" stroke-width="1.34" fill="none" />
<path d="M 259,18 A 4 13 0 0 0 259,44" stroke-width="1.34" fill="none" />
<path d="M 262,18 L 270,19 C 274,27 274,36 270,42 L 262,44" stroke-width="1.46" fill="#fff" />
<ellipse cx="271" cy="35" rx="3" ry="4" stroke-width="1.34" fill="#fff" />
<path d="M 214,33 l -3,0 l 0,3 l 3,0" stroke-width="1.12" fill="none" />
<path d="M 262,2 C 270,6 268,23 266,25 L 270,30 C 274,29 276,4 266,-4 Z" stroke-width="1.57" fill="#fff" />
<path d="M 256,8 C 262,14 262,18 258,20" stroke-width="1.34" fill="none" />
</g>
<g transform="translate(719.5,126) rotate(-18) scale(1,1)">
<path d="M 3,-2.5 L 26,-2.5 L 26,2.5 L 3,2.5 Z" stroke-width="1.34" fill="#fff" />
<path d="M 18,-2.8 L 26,-2.8 L 26,2.8 L 18,2.8 Z" stroke-width="1.12" fill="#555" />
<path d="M 25.1,-3.0 L 25.1,3.0" stroke-width="1.34" fill="none" />
<path d="M 23.3,-3.0 L 23.3,3.0" stroke-width="1.34" fill="none" />
<path d="M 21.5,-3.0 L 21.5,3.0" stroke-width="1.34" fill="none" />
<path d="M 19.700000000000003,-3.0 L 19.700000000000003,3.0" stroke-width="1.34" fill="none" />
<ellipse cx="3.2" cy="0" rx="1.8" ry="6.2" stroke-width="1.46" fill="#fff" />
</g>
<polygon points="724.6,126.9 721.3,130.9 716.2,130.0 714.4,125.1 717.7,121.1 722.8,122.0" stroke-width="1.68" fill="#fff" />
<ellipse cx="719.5" cy="126" rx="2.3400000000000003" ry="2.3400000000000003" stroke-width="1.12" fill="#fff" />
<polyline points="746,117 778,104 782,122 792,119" fill="none" stroke-width="1.2"/>
<polyline points="792,119 812,111" class="dd" stroke-width="1.34"/>
<line x1="720" y1="109" x2="720" y2="118" stroke-width="1.34" />
<line x1="829" y1="104" x2="853" y2="94" stroke-width="1.34" />
<polygon points="863.9,93.9 859.9,97.6 854.5,96.3 853.1,91.1 857.1,87.4 862.5,88.7" stroke-width="1.68" fill="#fff" />
<ellipse cx="858.5" cy="92.5" rx="2.8" ry="2.8" stroke-width="1.68" fill="#d8d8d8" />
<line x1="857" y1="75" x2="857" y2="85" stroke-width="1.34" />
<line x1="834" y1="212" x2="848" y2="212" stroke-width="1.46" />
<line x1="951" y1="376" x2="975" y2="366" stroke-width="1.34" />
<polygon points="986.4,364.4 982.4,368.1 977.0,366.8 975.6,361.6 979.6,357.9 985.0,359.2" stroke-width="1.68" fill="#fff" />
<ellipse cx="981" cy="363" rx="2.8" ry="2.8" stroke-width="1.68" fill="#d8d8d8" />
<line x1="981" y1="345" x2="981" y2="355" stroke-width="1.34" />
<polyline points="936,384 911.5,392 911.5,463 903,469" class="dd" stroke-width="1.34"/>
<polyline points="623.3,326.6 744.8,296.7 952.5,479.5 952.5,518.5 746.5,501.5 705,528 623.3,521.4 623.3,326.6" class="dd" stroke-width="1.46"/>
<line x1="766" y1="306" x2="766" y2="316" stroke-width="1.34" />
<polyline points="727,344 743.8,331.5 743.8,417" class="dd" stroke-width="1.23"/>
<polyline points="694,428 671.6,443.5 671.6,480 686,473" class="dd" stroke-width="1.23"/>
<polyline points="621.6,524.8 700,463" class="dd" stroke-width="1.12"/>
<g transform="translate(939.3,444.7) rotate(0) scale(0.92,0.92)">
<path d="M -13.6,0.5 C -13,-3 -10,-5 -7,-5.6 L 4,-8 C 7,-8.3 9,-7 10,-5.5 L 13.8,-0.5 L 12.2,2 L 2,7 C -1,8.2 -5,8.6 -8,7.6 C -11,6.5 -13.4,4 -13.6,0.5 Z" stroke-width="1.68" fill="#fff" />
<path d="M -10.5,0.5 C -10,-1.5 -6,-3 -2.5,-4 C -0.5,-4.3 1,-1.5 3,-2.2 L 9,-5.3" stroke-width="1.79" fill="none" />
<path d="M -10.5,0.5 C -10.5,3 -7,4.2 -3,4.2 C 0,4 2,2.5 4,1 L 8.6,-1.8 L 12.2,0.6" stroke-width="1.57" fill="none" />
<path d="M -13.6,0.5 L -13.2,2.6 C -12.5,6 -9,8.8 -6,9 L -3,8.6" stroke-width="1.23" fill="none" />
<path d="M 6,-0.3 L 7,2.5 M 9,-1.7 L 10,1" stroke-width="1.12" fill="none" />
</g>
<path d="M 757,419 L 887.6,477.5 L 876.7,481.6 L 752,441 Z" stroke-width="1.46" fill="#fff" />
<path d="M 757,419 L 887.6,477.5" stroke-width="2.24" fill="none" />
<path d="M 752,461 L 780,439.5 C 786,436.5 794,440 793,446 L 789.7,462.6 L 770,473 Z" stroke-width="1.46" fill="#fff" />
<path d="M 763,458 L 786,442" stroke-width="1.12" fill="none" />
<path d="M 711,454.4 L 874,483 L 903,509 L 702.6,479 Z" stroke-width="1.46" fill="#fff" />
<path d="M 702.6,479 L 903,509" stroke-width="2.24" fill="none" />
<path d="M 874,483 L 893,476 L 915,487 C 917,484 925,482 933,482 C 944,482 950,490 949.5,498 L 949,505 C 948,511 941,514 932,513 C 924,512 919,508 914,506 L 903,509 Z" stroke-width="1.46" fill="#fff" />
<ellipse cx="933" cy="497.5" rx="16" ry="8" stroke-width="1.57" fill="#fff" />
<ellipse cx="933" cy="497.2" rx="11" ry="4.8" stroke-width="1.46" fill="#fff" />
<path d="M 922.2,498 C 924,502 942,502 943.8,498" stroke-width="1.12" fill="none" />
<path d="M 917,497.5 C 917,503 918,506 919,508" stroke-width="1.12" fill="none" />
<path d="M 903,509 L 904,495 L 915,487 M 904,495 L 893,490" stroke-width="1.23" fill="none" />
<path d="M 894,470 C 896,464 903,463 908,466 L 914,474 L 913,481 L 910,480 L 909,486 L 903,482 Z" stroke-width="1.57" fill="#fff" />
<ellipse cx="902.3" cy="470" rx="2.3" ry="2.3" stroke-width="1.23" fill="#fff" />
<path d="M 884,480 C 886,473 893,472 897,476 L 903,495 L 893,490 L 876,486 Z" stroke-width="1.57" fill="#fff" />
<ellipse cx="891.7" cy="478" rx="2.3" ry="2.3" stroke-width="1.23" fill="#fff" />
<path d="M 897,476 L 903,482 M 903,495 L 909,486" stroke-width="1.12" fill="none" />
<path d="M 745.6,443.2 L 758.6,433.2 A 13 13.5 -37 0 0 742.4,411.6 L 729.4,421.6 Z" stroke-width="1.46" fill="#fff" />
<ellipse cx="737.5" cy="432.4" rx="13" ry="13.5" stroke-width="1.68" fill="#fff" transform="rotate(-37 737.5 432.4)" />
<ellipse cx="738.3" cy="431.9" rx="10.4" ry="10.9" stroke-width="1.46" fill="#fff" transform="rotate(-37 738.3 431.9)" />
<path d="M 727.0,437.4 A 10.4 10.9 -37 0 0 742.5,442.9" stroke-width="2.02" fill="none" />
<path d="M 699.9,480.3 L 712.9,470.3 A 14 13.5 -37 0 0 696.7,448.7 L 683.7,458.7 Z" stroke-width="1.46" fill="#fff" />
<ellipse cx="691.8" cy="469.5" rx="14" ry="13.5" stroke-width="1.68" fill="#fff" transform="rotate(-37 691.8 469.5)" />
<ellipse cx="692.5999999999999" cy="469.0" rx="11.4" ry="10.9" stroke-width="1.46" fill="#fff" transform="rotate(-37 692.5999999999999 469.0)" />
<path d="M 680.3,474.5 A 11.4 10.9 -37 0 0 696.8,480.0" stroke-width="2.02" fill="none" />
<ellipse cx="741" cy="436.5" rx="1.2" ry="0.8" stroke-width="1.12" fill="#333" />
<ellipse cx="696" cy="474.5" rx="1.2" ry="0.8" stroke-width="1.12" fill="#333" />
<line x1="845" y1="446" x2="845" y2="459" stroke-width="1.46" />
<polyline points="891,478.5 830.5,520.7" class="dd" stroke-width="1.23"/>
<g transform="translate(807.6,534.2) rotate(-31) scale(1,1)">
<path d="M 3,-2.7 L 27,-2.7 L 27,2.7 L 3,2.7 Z" stroke-width="1.34" fill="#fff" />
<path d="M 20,-3.0 L 27,-3.0 L 27,3.0 L 20,3.0 Z" stroke-width="1.12" fill="#555" />
<path d="M 26.1,-3.2 L 26.1,3.2" stroke-width="1.34" fill="none" />
<path d="M 24.3,-3.2 L 24.3,3.2" stroke-width="1.34" fill="none" />
<path d="M 22.5,-3.2 L 22.5,3.2" stroke-width="1.34" fill="none" />
<ellipse cx="3.2" cy="0" rx="1.8" ry="6.2" stroke-width="1.46" fill="#fff" />
</g>
<polygon points="812.7,535.1 809.4,539.1 804.3,538.2 802.5,533.3 805.8,529.3 810.9,530.2" stroke-width="1.68" fill="#fff" />
<ellipse cx="807.6" cy="534.2" rx="2.3400000000000003" ry="2.3400000000000003" stroke-width="1.12" fill="#fff" />
<line x1="822" y1="529" x2="822" y2="542" stroke-width="1.34" />
<g transform="translate(933,542) rotate(0) scale(1.08,1.08)">
<path d="M -6,0 L 6,0 L 6.5,3 L -6.5,3 Z" stroke-width="1.34" fill="#555" />
<path d="M -8,3 L 8,3 L 8,10 L -8,10 Z" stroke-width="1.46" fill="#fff" />
<path d="M -8,5 L 8,5" stroke-width="2.46" fill="none" />
<path d="M -10,11 C -10,9.5 10,9.5 10,11 L 9.5,14 C 6,16.5 -6,16.5 -9.5,14 Z" stroke-width="1.46" fill="#fff" />
<path d="M -7,15.5 C -6,19 -4,20 -3.2,22 L -3.2,27 L 3.2,27 L 3.2,22 C 4,20 6,19 7,15.5" stroke-width="1.46" fill="#fff" />
<path d="M -2.4,27 L -2.4,34 L 2.4,34 L 2.4,27" stroke-width="1.34" fill="#fff" />
<path d="M -2.4,29 L 2.4,29 M -2.4,30.7 L 2.4,30.7 M -2.4,32.4 L 2.4,32.4" stroke-width="1.12" fill="none" />
</g>
<g transform="translate(718.2,351.6) rotate(-37) scale(1,1)">
<path d="M 0,-7.2 L 7,-7.2 A 3.2 7.2 0 0 1 7,7.2 L 0,7.2 Z" stroke-width="1.46" fill="#fff" />
<ellipse cx="-1" cy="0" rx="4.3" ry="8.6" stroke-width="1.79" fill="#fff" />
<ellipse cx="-1.6" cy="0" rx="3.0" ry="5.8" stroke-width="3.36" fill="#888" />
<ellipse cx="-1.8" cy="0" rx="1.4" ry="3.0" stroke-width="1.12" fill="#fff" />
</g>
<line x1="717" y1="331" x2="717" y2="342" stroke-width="1.34" />
<g transform="translate(699.2,367.2) rotate(-37) scale(1,1)">
<path d="M -9.5,-5.4 L 9.5,-5.4 A 2.43 5.4 0 0 1 9.5,5.4 L -9.5,5.4 Z" stroke-width="1.46" fill="#fff" />
<ellipse cx="-9.5" cy="0" rx="2.43" ry="5.4" stroke-width="1.46" fill="#fff" />
<ellipse cx="-9.5" cy="0" rx="1.4580000000000002" ry="2.9700000000000006" stroke-width="1.79" fill="#bbb" />
</g>
<line x1="690" y1="351" x2="690" y2="360" stroke-width="1.34" />
<g transform="translate(660,396.5) rotate(-34) scale(1,1)">
<path d="M 3,-1.6 L 25,-1.6 L 25,1.6 L 3,1.6 Z" stroke-width="1.34" fill="#fff" />
<path d="M 16,-1.9000000000000001 L 25,-1.9000000000000001 L 25,1.9000000000000001 L 16,1.9000000000000001 Z" stroke-width="1.12" fill="#555" />
<path d="M 24.1,-2.1 L 24.1,2.1" stroke-width="1.34" fill="none" />
<path d="M 22.3,-2.1 L 22.3,2.1" stroke-width="1.34" fill="none" />
<path d="M 20.5,-2.1 L 20.5,2.1" stroke-width="1.34" fill="none" />
<path d="M 18.700000000000003,-2.1 L 18.700000000000003,2.1" stroke-width="1.34" fill="none" />
<path d="M 16.900000000000002,-2.1 L 16.900000000000002,2.1" stroke-width="1.34" fill="none" />
<ellipse cx="3.2" cy="0" rx="1.8" ry="5.3" stroke-width="1.46" fill="#fff" />
</g>
<polygon points="664.2,397.2 661.5,400.5 657.2,399.8 655.8,395.8 658.5,392.5 662.8,393.2" stroke-width="1.68" fill="#fff" />
<ellipse cx="660" cy="396.5" rx="1.935" ry="1.935" stroke-width="1.12" fill="#fff" />
<line x1="663" y1="379" x2="663" y2="390" stroke-width="1.34" />
<line x1="683" y1="381" x2="691" y2="375" stroke-width="1.12" />
<g transform="translate(755.5,391.5) rotate(-8) scale(1,1)">
<path d="M -3.6,-3 L 3.6,-3 L 3.6,0.5 L -3.6,0.5 Z" stroke-width="1.46" fill="#ccc" />
<path d="M -2.6,-3 L -2,-6 L 2,-6 L 2.6,-3" stroke-width="1.46" fill="#fff" />
<path d="M -2.6,0.5 L -2.6,5 L 2.6,5 L 2.6,0.5" stroke-width="1.34" fill="#fff" />
<path d="M -2.6,2 L 2.6,2 M -2.6,3.5 L 2.6,3.5" stroke-width="1.01" fill="none" />
</g>
<line x1="757" y1="372" x2="757" y2="383" stroke-width="1.34" />
<g transform="translate(774.8,403.2) rotate(-37) scale(1,1)">
<path d="M -2,-8.4 L 2,-8.4 A 4 8.4 0 0 1 2,8.4 L -2,8.4 A 4 8.4 0 0 1 -2,-8.4 Z" stroke-width="1.57" fill="#fff" />
<path d="M -9,-6.4 L -2,-6.4 A 3 6.4 0 0 1 -2,6.4 L -9,6.4 Z" stroke-width="1.46" fill="#fff" />
<ellipse cx="-9" cy="0" rx="3.0" ry="6.4" stroke-width="1.68" fill="#fff" />
<ellipse cx="-9.3" cy="0" rx="2.0" ry="4.4" stroke-width="2.91" fill="#888" />
</g>
<line x1="770" y1="380" x2="770" y2="393" stroke-width="1.34" />
<line x1="782" y1="397" x2="791" y2="390" stroke-width="1.12" />
<polygon points="800.1,388.4 796.7,391.6 792.1,390.4 790.9,386.0 794.3,382.8 798.9,384.0" stroke-width="1.68" fill="#fff" />
<ellipse cx="795.5" cy="387.2" rx="2.4" ry="2.4" stroke-width="1.68" fill="#d8d8d8" />
<line x1="794" y1="370" x2="794" y2="380" stroke-width="1.34" />
<polygon points="711.1,418.4 707.7,421.6 703.1,420.4 701.9,416.0 705.3,412.8 709.9,414.0" stroke-width="1.68" fill="#fff" />
<ellipse cx="706.5" cy="417.2" rx="2.4" ry="2.4" stroke-width="1.68" fill="#d8d8d8" />
<line x1="706.5" y1="400" x2="706.5" y2="410" stroke-width="1.34" />
<line x1="693" y1="428" x2="702" y2="421" stroke-width="1.12" />
<g transform="translate(686.6,433.2) rotate(-37) scale(1,1)">
<path d="M -2,-8.4 L 2,-8.4 A 4 8.4 0 0 1 2,8.4 L -2,8.4 A 4 8.4 0 0 1 -2,-8.4 Z" stroke-width="1.57" fill="#fff" />
<path d="M -9,-6.4 L -2,-6.4 A 3 6.4 0 0 1 -2,6.4 L -9,6.4 Z" stroke-width="1.46" fill="#fff" />
<ellipse cx="-9" cy="0" rx="3.0" ry="6.4" stroke-width="1.68" fill="#fff" />
<ellipse cx="-9.3" cy="0" rx="2.0" ry="4.4" stroke-width="2.91" fill="#888" />
</g>
<line x1="682" y1="413" x2="682" y2="424" stroke-width="1.34" />
<g transform="translate(713.2,433.5) rotate(-10) scale(1,1)">
<path d="M -3.6,-3 L 3.6,-3 L 3.6,0.5 L -3.6,0.5 Z" stroke-width="1.46" fill="#ccc" />
<path d="M -2.6,-3 L -2,-6 L 2,-6 L 2.6,-3" stroke-width="1.46" fill="#fff" />
<path d="M -2.6,0.5 L -2.6,5 L 2.6,5 L 2.6,0.5" stroke-width="1.34" fill="#fff" />
<path d="M -2.6,2 L 2.6,2 M -2.6,3.5 L 2.6,3.5" stroke-width="1.01" fill="none" />
</g>
<g transform="translate(660,493) rotate(-37) scale(1,1)">
<path d="M 0,-7.2 L 7,-7.2 A 3.2 7.2 0 0 1 7,7.2 L 0,7.2 Z" stroke-width="1.46" fill="#fff" />
<ellipse cx="-1" cy="0" rx="4.3" ry="8.6" stroke-width="1.79" fill="#fff" />
<ellipse cx="-1.6" cy="0" rx="3.0" ry="5.8" stroke-width="3.36" fill="#888" />
<ellipse cx="-1.8" cy="0" rx="1.4" ry="3.0" stroke-width="1.12" fill="#fff" />
</g>
<line x1="658" y1="472" x2="658" y2="483" stroke-width="1.34" />
<g transform="translate(641.6,509.8) rotate(-37) scale(1,1)">
<path d="M -9.5,-5.4 L 9.5,-5.4 A 2.43 5.4 0 0 1 9.5,5.4 L -9.5,5.4 Z" stroke-width="1.46" fill="#fff" />
<ellipse cx="-9.5" cy="0" rx="2.43" ry="5.4" stroke-width="1.46" fill="#fff" />
<ellipse cx="-9.5" cy="0" rx="1.4580000000000002" ry="2.9700000000000006" stroke-width="1.79" fill="#bbb" />
</g>
<line x1="635" y1="492" x2="635" y2="502" stroke-width="1.34" />
<g transform="translate(603.3,537) rotate(-34) scale(1,1)">
<path d="M 3,-1.6 L 24,-1.6 L 24,1.6 L 3,1.6 Z" stroke-width="1.34" fill="#fff" />
<path d="M 15,-1.9000000000000001 L 24,-1.9000000000000001 L 24,1.9000000000000001 L 15,1.9000000000000001 Z" stroke-width="1.12" fill="#555" />
<path d="M 23.1,-2.1 L 23.1,2.1" stroke-width="1.34" fill="none" />
<path d="M 21.3,-2.1 L 21.3,2.1" stroke-width="1.34" fill="none" />
<path d="M 19.5,-2.1 L 19.5,2.1" stroke-width="1.34" fill="none" />
<path d="M 17.700000000000003,-2.1 L 17.700000000000003,2.1" stroke-width="1.34" fill="none" />
<path d="M 15.900000000000002,-2.1 L 15.900000000000002,2.1" stroke-width="1.34" fill="none" />
<ellipse cx="3.2" cy="0" rx="1.8" ry="5.3" stroke-width="1.46" fill="#fff" />
</g>
<polygon points="607.5,537.7 604.8,541.0 600.5,540.3 599.1,536.3 601.8,533.0 606.1,533.7" stroke-width="1.68" fill="#fff" />
<ellipse cx="603.3" cy="537" rx="1.935" ry="1.935" stroke-width="1.12" fill="#fff" />
<line x1="606" y1="519" x2="606" y2="531" stroke-width="1.34" />
<g transform="translate(869.7,328.5) rotate(0) scale(1,1)">
<path d="M -9.5,-1.5 C -13.5,-1 -14,3 -12,5.5 L -8.5,4.5" stroke-width="2.02" fill="#fff" />
<ellipse cx="0" cy="0" rx="12" ry="9.6" stroke-width="2.24" fill="#fff" transform="rotate(40 0 0)" />
<ellipse cx="-0.5" cy="-0.3" rx="3.9" ry="2.6" stroke-width="2.24" fill="#fff" transform="rotate(35 -0.5 -0.3)" />
<ellipse cx="7.6" cy="0.3" rx="1.7" ry="1.5" stroke-width="1.57" fill="#fff" />
<path d="M -1.5,9.3 L 4,11.6 L 6.5,8.6 Z" stroke-width="1.57" fill="#222" />
<path d="M -9,-7.5 C -6,-10.5 -3,-11 0,-10.6" stroke-width="3.36" fill="none" />
</g>
<line x1="864.7" y1="309" x2="864.7" y2="318" stroke-width="1.34" />
<g transform="translate(834.8,356.6) rotate(0) scale(1,1)">
<path d="M 9,-4.5 L 11.5,-6.5 L 14,-2 L 11,0.8 Z" stroke-width="1.79" fill="#fff" />
<path d="M -3.5,-10.6 L 1,-12 L -0.5,-10" stroke-width="1.79" fill="none" />
<ellipse cx="0" cy="0" rx="12" ry="9.6" stroke-width="2.24" fill="#fff" transform="rotate(40 0 0)" />
<ellipse cx="0.3" cy="0.6" rx="3.9" ry="2.6" stroke-width="2.24" fill="#fff" transform="rotate(35 0.3 0.6)" />
</g>
<line x1="830.8" y1="334" x2="830.8" y2="345" stroke-width="1.34" />
<line x1="745.8" y1="524" x2="745.8" y2="533" stroke-width="1.34" />
<line x1="711.7" y1="551" x2="711.7" y2="560" stroke-width="1.34" />
<path d="M 146,577 C 138,580 137,608 146,615 L 158,619 L 176,618 L 176,584 L 160,577 Z" stroke-width="1.57" fill="#fff" />
<path d="M 146,577 C 152,580 153,586 152,592 L 176,592" stroke-width="1.23" fill="none" />
<polygon points="181.7,546.7 192.0,541.5 201.4,563.3 190.0,564.3 169.3,594.3 150.7,594.3" stroke-width="1.46" fill="#fff" />
<polyline points="184.2,549.2 161.0,589.1" stroke-width="1.12" fill="none" />
<polyline points="150.7,594.3 157.9,591.2 168.3,593.9" stroke-width="1.12" fill="none" />
<polygon points="192.0,541.5 212.7,530.2 241.7,515.7 254.1,513.2 263.4,514.6 266.9,521.9 264.9,530.6 258.2,532.6 245.8,534.3 237.5,539.5 221.0,549.8 221.0,559.5 213.8,564.9 201.4,563.3 192.0,556.0" stroke-width="1.57" fill="#fff" />
<polyline points="192.0,556.0 204.5,549.2 221.0,549.8" stroke-width="1.23" fill="none" />
<polyline points="204.5,549.2 201.4,563.3" stroke-width="1.12" fill="none" />
<polyline points="212.7,530.2 216.9,537.4 242.7,524.0 245.8,534.3" stroke-width="1.12" fill="none" />
<polyline points="242.7,524.0 241.7,515.7" stroke-width="1.12" fill="none" />
<polyline points="245.8,534.3 248.9,524.0 265.5,521.9" stroke-width="1.12" fill="none" />
<ellipse cx="255.5" cy="516.5" rx="3.4" ry="1.7" stroke-width="1.23" fill="#fff" />
<ellipse cx="209.6" cy="554.5" rx="4.2" ry="2.2" stroke-width="1.46" fill="#fff" />
<polyline points="181.7,546.7 184.8,544.6 188.9,545.7" stroke-width="1.34" fill="none" />
<ellipse cx="175" cy="602" rx="9" ry="16" stroke-width="1.57" fill="#fff" transform="rotate(8 175 602)" />
<ellipse cx="176" cy="602" rx="6.5" ry="12.5" stroke-width="1.46" fill="#fff" transform="rotate(8 176 602)" />
<ellipse cx="177.5" cy="601" rx="4" ry="9" stroke-width="1.23" fill="#fff" transform="rotate(8 177.5 601)" />
<polygon points="184.8,592.2 192.0,591.2 197.2,596.3 196.2,603.6 190.0,605.7 185.4,602.5" stroke-width="1.46" fill="#fff" />
<ellipse cx="192.5" cy="598" rx="2" ry="2.6" stroke-width="1.23" fill="#fff" />
<polyline points="185.4,607.7 186.9,612.9 184.2,615.0" stroke-width="1.12" fill="none" />
<polygon points="163.1,619.1 162.1,637.7 170.3,643.9 174.5,647.0 201.4,647.0 203.4,642.9 203.4,635.6 198.3,630.5 181.7,629.4 178.6,619.1 169.3,621.2" stroke-width="1.46" fill="#fff" />
<polyline points="169.3,621.2 168.3,637.7 174.5,647.0" stroke-width="1.23" fill="none" />
<polyline points="168.3,637.7 177.6,631.5" stroke-width="1.12" fill="none" />
<ellipse cx="188" cy="633.5" rx="13" ry="5.3" stroke-width="1.46" fill="#fff" />
<ellipse cx="188" cy="633.8" rx="8.8" ry="3.3" stroke-width="1.34" fill="#fff" />
<polyline points="208.6,577.7 253.7,577.7 253.7,542.6 308,542.6 308,551" class="dd" stroke-width="1.46"/>
<polyline points="209,474 209,577.7" class="dd" stroke-width="1.46"/>
<path d="M 304.3,557.5 L 306.3,553.5 L 313.3,553.0 L 314.8,556.5 L 310.3,559.5 Z" stroke-width="1.79" fill="#ddd" />
<path d="M 306.3,553.5 L 308.3,556.5 L 314.8,556.5 M 305.3,553.0 L 312.3,559.5" stroke-width="1.46" fill="none" />
<path d="M 304.0,569.5 L 313.6,569.5 L 313.1,574.5 L 304.5,574.5 Z" stroke-width="1.68" fill="#555" />
<ellipse cx="308.8" cy="569.5" rx="4.8" ry="2.2" stroke-width="1.79" fill="#ddd" />
<line x1="308.5" y1="576" x2="308.5" y2="591" stroke-width="1.34" />
<path d="M 300.0,592 L 317.0,591.5" stroke-width="2.24" fill="none" />
<ellipse cx="300.0" cy="592" rx="1.4" ry="1.4" stroke-width="1.12" fill="#fff" />
<line x1="318" y1="591" x2="328" y2="591" stroke-width="1.34" />
<g transform="translate(242.7,603.8) rotate(0) scale(0.9,0.9)">
<path d="M -13.6,0.5 C -13,-3 -10,-5 -7,-5.6 L 4,-8 C 7,-8.3 9,-7 10,-5.5 L 13.8,-0.5 L 12.2,2 L 2,7 C -1,8.2 -5,8.6 -8,7.6 C -11,6.5 -13.4,4 -13.6,0.5 Z" stroke-width="1.68" fill="#fff" />
<path d="M -10.5,0.5 C -10,-1.5 -6,-3 -2.5,-4 C -0.5,-4.3 1,-1.5 3,-2.2 L 9,-5.3" stroke-width="1.79" fill="none" />
<path d="M -10.5,0.5 C -10.5,3 -7,4.2 -3,4.2 C 0,4 2,2.5 4,1 L 8.6,-1.8 L 12.2,0.6" stroke-width="1.57" fill="none" />
<path d="M -13.6,0.5 L -13.2,2.6 C -12.5,6 -9,8.8 -6,9 L -3,8.6" stroke-width="1.23" fill="none" />
<path d="M 6,-0.3 L 7,2.5 M 9,-1.7 L 10,1" stroke-width="1.12" fill="none" />
</g>
<polyline points="238.6,612 238.6,624.3 188,624.3 188,640" class="dd" stroke-width="1.46"/>
<polyline points="187.5,648 187.5,686" class="dd" stroke-width="1.46"/>
<g transform="translate(187.3,686.5) rotate(0) scale(1.08,1.08)">
<path d="M -6,0 L 6,0 L 6.5,3 L -6.5,3 Z" stroke-width="1.34" fill="#555" />
<path d="M -8,3 L 8,3 L 8,10 L -8,10 Z" stroke-width="1.46" fill="#fff" />
<path d="M -8,5 L 8,5" stroke-width="2.46" fill="none" />
<path d="M -10,11 C -10,9.5 10,9.5 10,11 L 9.5,14 C 6,16.5 -6,16.5 -9.5,14 Z" stroke-width="1.46" fill="#fff" />
<path d="M -7,15.5 C -6,19 -4,20 -3.2,22 L -3.2,27 L 3.2,27 L 3.2,22 C 4,20 6,19 7,15.5" stroke-width="1.46" fill="#fff" />
<path d="M -2.4,27 L -2.4,34 L 2.4,34 L 2.4,27" stroke-width="1.34" fill="#fff" />
<path d="M -2.4,29 L 2.4,29 M -2.4,30.7 L 2.4,30.7 M -2.4,32.4 L 2.4,32.4" stroke-width="1.12" fill="none" />
</g>
<polyline points="71.9,620.3 116.6,620.3 116.6,731.3 71.9,731.3 71.9,620.3" class="dd" stroke-width="1.46"/>
<line x1="106.3" y1="605" x2="106.3" y2="620.3" stroke-width="1.34" />
<g transform="translate(95.2,641) rotate(0) scale(0.92,0.92)">
<path d="M -13.6,0.5 C -13,-3 -10,-5 -7,-5.6 L 4,-8 C 7,-8.3 9,-7 10,-5.5 L 13.8,-0.5 L 12.2,2 L 2,7 C -1,8.2 -5,8.6 -8,7.6 C -11,6.5 -13.4,4 -13.6,0.5 Z" stroke-width="1.68" fill="#fff" />
<path d="M -10.5,0.5 C -10,-1.5 -6,-3 -2.5,-4 C -0.5,-4.3 1,-1.5 3,-2.2 L 9,-5.3" stroke-width="1.79" fill="none" />
<path d="M -10.5,0.5 C -10.5,3 -7,4.2 -3,4.2 C 0,4 2,2.5 4,1 L 8.6,-1.8 L 12.2,0.6" stroke-width="1.57" fill="none" />
<path d="M -13.6,0.5 L -13.2,2.6 C -12.5,6 -9,8.8 -6,9 L -3,8.6" stroke-width="1.23" fill="none" />
<path d="M 6,-0.3 L 7,2.5 M 9,-1.7 L 10,1" stroke-width="1.12" fill="none" />
</g>
<g transform="translate(93,663) rotate(0) scale(1.026,1.026)">
<path d="M -6,0 L 6,0 L 6.5,3 L -6.5,3 Z" stroke-width="1.34" fill="#555" />
<path d="M -8,3 L 8,3 L 8,10 L -8,10 Z" stroke-width="1.46" fill="#fff" />
<path d="M -8,5 L 8,5" stroke-width="2.46" fill="none" />
<path d="M -10,11 C -10,9.5 10,9.5 10,11 L 9.5,14 C 6,16.5 -6,16.5 -9.5,14 Z" stroke-width="1.46" fill="#fff" />
<path d="M -7,15.5 C -6,19 -4,20 -3.2,22 L -3.2,27 L 3.2,27 L 3.2,22 C 4,20 6,19 7,15.5" stroke-width="1.46" fill="#fff" />
<path d="M -2.4,27 L -2.4,34 L 2.4,34 L 2.4,27" stroke-width="1.34" fill="#fff" />
<path d="M -2.4,29 L 2.4,29 M -2.4,30.7 L 2.4,30.7 M -2.4,32.4 L 2.4,32.4" stroke-width="1.12" fill="none" />
</g>
<path d="M 88.6,709.3 L 90.6,705.3 L 97.6,704.8 L 99.1,708.3 L 94.6,711.3 Z" stroke-width="1.79" fill="#ddd" />
<path d="M 90.6,705.3 L 92.6,708.3 L 99.1,708.3 M 89.6,704.8 L 96.6,711.3" stroke-width="1.46" fill="none" />
<path d="M 90.10000000000001,717.5 L 99.7,717.5 L 99.2,722.5 L 90.60000000000001,722.5 Z" stroke-width="1.68" fill="#555" />
<ellipse cx="94.9" cy="717.5" rx="4.8" ry="2.2" stroke-width="1.79" fill="#ddd" />
<polygon points="940.2,674.0 946.0,656.6 954.7,655.7 959.5,660.5 958.6,669.2 952.8,673.0 947.0,693.3 942.1,693.3" stroke-width="1.46" fill="#fff" />
<ellipse cx="956" cy="665.3" rx="1.8" ry="3.2" stroke-width="1.34" fill="#fff" />
<polyline points="946.0,656.6 949.9,661.4 945.0,675.9" stroke-width="1.12" fill="none" />
<polygon points="895.7,605.4 901.5,601.0 910.6,601.5 918.0,606.4 925.7,613.1 932.5,625.7 936.3,641.2 934.4,650.8 923.8,646.0 908.3,639.2 901.5,623.8 896.7,616.0" stroke-width="1.57" fill="#fff" />
<polyline points="895.7,605.4 905.4,612.2 918.0,610.6 918.0,606.4" stroke-width="1.23" fill="none" />
<polyline points="905.4,612.2 910.6,637.3 923.8,636.3 934.4,641.2" stroke-width="1.23" fill="none" />
<polyline points="918.0,610.6 926.7,618.0 923.8,636.3" stroke-width="1.12" fill="none" />
<polyline points="901.5,623.8 905.4,616.0" stroke-width="1.12" fill="none" />
<ellipse cx="907.3" cy="606.2" rx="3.6" ry="2.1" stroke-width="1.34" fill="#fff" transform="rotate(-15 907.3 606.2)" />
<polygon points="887.1,650.8 891.9,646.0 901.5,643.1 908.3,639.2 923.8,646.0 934.4,650.8 929.6,654.7 918.0,654.7 907.3,656.6 903.5,664.3 892.9,663.4 887.1,658.6" stroke-width="1.46" fill="#fff" />
<ellipse cx="895.7" cy="650.8" rx="4.6" ry="2.6" stroke-width="1.46" fill="#fff" />
<polyline points="887.1,650.8 892.9,655.7 905.4,654.7 907.3,656.6" stroke-width="1.12" fill="none" />
<polygon points="907.3,656.6 918.0,654.7 926.7,652.8 945.0,693.3 937.3,706.9 923.8,708.8" stroke-width="1.46" fill="#fff" />
<polyline points="918.0,654.7 936.3,695.3" stroke-width="1.12" fill="none" />
<polyline points="921.8,656.6 926.7,665.3 923.8,660.5" stroke-width="1.12" fill="none" />
<polygon points="918.9,708.8 923.8,704.0 937.3,706.9 950.8,714.6 950.8,733.9 945.0,734.9 923.8,730.0 918.9,724.3" stroke-width="1.46" fill="#fff" />
<polyline points="918.9,708.8 937.3,714.6 950.8,714.6" stroke-width="1.12" fill="none" />
<path d="M 940,697 L 960,696 C 970,698 971,727 962,733 L 945,734 Z" stroke-width="1.46" fill="#fff" />
<polyline points="939.2,695.3 945.0,693.3 960.5,696.2" stroke-width="1.46" fill="none" />
<ellipse cx="958.6" cy="715.5" rx="8.8" ry="17.3" stroke-width="1.57" fill="#fff" transform="rotate(10 958.6 715.5)" />
<ellipse cx="957.5" cy="715.5" rx="6.4" ry="13.5" stroke-width="1.46" fill="#fff" transform="rotate(10 957.5 715.5)" />
<ellipse cx="955.5" cy="715.5" rx="4.6" ry="10.5" stroke-width="1.34" fill="#fff" transform="rotate(10 955.5 715.5)" />
<polygon points="923.8,730.0 945.0,734.9 943.1,743.6 936.3,750.3 928.6,755.2 904.4,751.3 902.1,745.5 903.5,738.7 910.2,734.9 925.7,734.9" stroke-width="1.46" fill="#fff" />
<polyline points="925.7,734.9 927.6,753.2" stroke-width="1.23" fill="none" />
<polyline points="933.4,733.9 932.5,745.5 927.6,753.2" stroke-width="1.12" fill="none" />
<ellipse cx="915" cy="741.5" rx="12.6" ry="5.6" stroke-width="1.46" fill="#fff" />
<ellipse cx="915.5" cy="742" rx="8.6" ry="3.4" stroke-width="1.34" fill="#fff" />
<polyline points="933.4,580 933.4,590 895.7,590 895.7,677.7" class="dd" stroke-width="1.46"/>
<g transform="translate(887,706.8) rotate(0) scale(0.85,0.85)">
<path d="M -13.6,0.5 C -13,-3 -10,-5 -7,-5.6 L 4,-8 C 7,-8.3 9,-7 10,-5.5 L 13.8,-0.5 L 12.2,2 L 2,7 C -1,8.2 -5,8.6 -8,7.6 C -11,6.5 -13.4,4 -13.6,0.5 Z" stroke-width="1.68" fill="#fff" />
<path d="M -10.5,0.5 C -10,-1.5 -6,-3 -2.5,-4 C -0.5,-4.3 1,-1.5 3,-2.2 L 9,-5.3" stroke-width="1.79" fill="none" />
<path d="M -10.5,0.5 C -10.5,3 -7,4.2 -3,4.2 C 0,4 2,2.5 4,1 L 8.6,-1.8 L 12.2,0.6" stroke-width="1.57" fill="none" />
<path d="M -13.6,0.5 L -13.2,2.6 C -12.5,6 -9,8.8 -6,9 L -3,8.6" stroke-width="1.23" fill="none" />
<path d="M 6,-0.3 L 7,2.5 M 9,-1.7 L 10,1" stroke-width="1.12" fill="none" />
</g>
<polyline points="886,716 886,730 915,730 915,740" class="dd" stroke-width="1.46"/>
<polyline points="914.5,757 914.5,769" class="dd" stroke-width="1.46"/>
<g transform="translate(914.3,769.7) rotate(0) scale(1.08,1.08)">
<path d="M -6,0 L 6,0 L 6.5,3 L -6.5,3 Z" stroke-width="1.34" fill="#555" />
<path d="M -8,3 L 8,3 L 8,10 L -8,10 Z" stroke-width="1.46" fill="#fff" />
<path d="M -8,5 L 8,5" stroke-width="2.46" fill="none" />
<path d="M -10,11 C -10,9.5 10,9.5 10,11 L 9.5,14 C 6,16.5 -6,16.5 -9.5,14 Z" stroke-width="1.46" fill="#fff" />
<path d="M -7,15.5 C -6,19 -4,20 -3.2,22 L -3.2,27 L 3.2,27 L 3.2,22 C 4,20 6,19 7,15.5" stroke-width="1.46" fill="#fff" />
<path d="M -2.4,27 L -2.4,34 L 2.4,34 L 2.4,27" stroke-width="1.34" fill="#fff" />
<path d="M -2.4,29 L 2.4,29 M -2.4,30.7 L 2.4,30.7 M -2.4,32.4 L 2.4,32.4" stroke-width="1.12" fill="none" />
</g>
<polyline points="1013.6,658.6 1059,658.6 1059,768.7 1013.6,768.7 1013.6,658.6" class="dd" stroke-width="1.46"/>
<line x1="1048.4" y1="643" x2="1048.4" y2="658.6" stroke-width="1.34" />
<g transform="translate(1036.8,678.8) rotate(0) scale(0.85,0.85)">
<path d="M -13.6,0.5 C -13,-3 -10,-5 -7,-5.6 L 4,-8 C 7,-8.3 9,-7 10,-5.5 L 13.8,-0.5 L 12.2,2 L 2,7 C -1,8.2 -5,8.6 -8,7.6 C -11,6.5 -13.4,4 -13.6,0.5 Z" stroke-width="1.68" fill="#fff" />
<path d="M -10.5,0.5 C -10,-1.5 -6,-3 -2.5,-4 C -0.5,-4.3 1,-1.5 3,-2.2 L 9,-5.3" stroke-width="1.79" fill="none" />
<path d="M -10.5,0.5 C -10.5,3 -7,4.2 -3,4.2 C 0,4 2,2.5 4,1 L 8.6,-1.8 L 12.2,0.6" stroke-width="1.57" fill="none" />
<path d="M -13.6,0.5 L -13.2,2.6 C -12.5,6 -9,8.8 -6,9 L -3,8.6" stroke-width="1.23" fill="none" />
<path d="M 6,-0.3 L 7,2.5 M 9,-1.7 L 10,1" stroke-width="1.12" fill="none" />
</g>
<g transform="translate(1035,702) rotate(0) scale(1.026,1.026)">
<path d="M -6,0 L 6,0 L 6.5,3 L -6.5,3 Z" stroke-width="1.34" fill="#555" />
<path d="M -8,3 L 8,3 L 8,10 L -8,10 Z" stroke-width="1.46" fill="#fff" />
<path d="M -8,5 L 8,5" stroke-width="2.46" fill="none" />
<path d="M -10,11 C -10,9.5 10,9.5 10,11 L 9.5,14 C 6,16.5 -6,16.5 -9.5,14 Z" stroke-width="1.46" fill="#fff" />
<path d="M -7,15.5 C -6,19 -4,20 -3.2,22 L -3.2,27 L 3.2,27 L 3.2,22 C 4,20 6,19 7,15.5" stroke-width="1.46" fill="#fff" />
<path d="M -2.4,27 L -2.4,34 L 2.4,34 L 2.4,27" stroke-width="1.34" fill="#fff" />
<path d="M -2.4,29 L 2.4,29 M -2.4,30.7 L 2.4,30.7 M -2.4,32.4 L 2.4,32.4" stroke-width="1.12" fill="none" />
</g>
<path d="M 1030,747.5 L 1032,743.5 L 1039,743.0 L 1040.5,746.5 L 1036,749.5 Z" stroke-width="1.79" fill="#ddd" />
<path d="M 1032,743.5 L 1034,746.5 L 1040.5,746.5 M 1031,743.0 L 1038,749.5" stroke-width="1.46" fill="none" />
<path d="M 1031.7,755.5 L 1041.3,755.5 L 1040.8,760.5 L 1032.2,760.5 Z" stroke-width="1.68" fill="#555" />
<ellipse cx="1036.5" cy="755.5" rx="4.8" ry="2.2" stroke-width="1.79" fill="#ddd" />
<path d="M 423.1,549.5 L 422.1,565 M 427.9,549.5 L 426.9,565" stroke-width="1.46" fill="none" />
<path d="M 429.5,541.9 L 438.5,544.3 L 438.5,547.7 L 429.5,546.5" stroke-width="1.46" fill="#fff" />
<ellipse cx="441.0" cy="546.5" rx="2.4" ry="2.2" stroke-width="1.34" fill="#333" />
<path d="M 420.5,535.2 L 428.0,536.2 A 4.2 8.4 0 0 1 428.0,552.8 L 420.5,551.8 A 4.2 8.4 0 0 1 420.5,535.2 Z" stroke-width="1.79" fill="#fff" />
<ellipse cx="428.0" cy="544.5" rx="4.2" ry="8.3" stroke-width="1.79" fill="#fff" />
<ellipse cx="429.1" cy="544.7" rx="2.4" ry="5.0" stroke-width="2.69" fill="#555" />
<path d="M 418.5,569.4 L 409.5,571.8 L 409.5,575.2 L 418.5,574" stroke-width="1.46" fill="#fff" />
<ellipse cx="407.0" cy="574" rx="2.4" ry="2.2" stroke-width="1.34" fill="#333" />
<path d="M 427.5,562.7 L 420.0,563.7 A 4.2 8.4 0 0 0 420.0,580.3 L 427.5,579.3 A 4.2 8.4 0 0 0 427.5,562.7 Z" stroke-width="1.79" fill="#fff" />
<ellipse cx="420.0" cy="572" rx="4.2" ry="8.3" stroke-width="1.79" fill="#fff" />
<ellipse cx="418.9" cy="572.2" rx="2.4" ry="5.0" stroke-width="2.69" fill="#555" />
<line x1="427.2" y1="526" x2="427.2" y2="537" stroke-width="1.34" />
<polyline points="443,547.5 481,558.3" class="dd" stroke-width="1.34"/>
<polyline points="406,574.5 369.8,588" class="dd" stroke-width="1.46"/>
<path d="M 485,573 C 478,571 477,561 486,559.5 L 494,558 L 507,557.5 L 507.5,568.5 L 512,570.5 L 512,583 Z" stroke-width="1.46" fill="#fff" />
<path d="M 494,558 L 493.5,567 L 507.5,568.5 M 493.5,567 C 488,567 485,569 485,573" stroke-width="1.23" fill="none" />
<ellipse cx="503" cy="563.6" rx="1.8" ry="1.4" stroke-width="1.23" fill="#fff" />
<path d="M 512,570.5 L 523,572.5 L 522.5,586 L 512,583 Z" stroke-width="1.46" fill="#fff" />
<path d="M 523,572.8 L 608,599.3 L 607.5,609.3 L 522.5,585 Z" stroke-width="1.46" fill="#fff" />
<ellipse cx="523" cy="579.3" rx="2.2" ry="6.6" stroke-width="2.02" fill="#fff" />
<path d="M 607.5,597.5 L 619,600.5 L 619,613.5 L 607,610 Z" stroke-width="1.46" fill="#fff" />
<ellipse cx="620" cy="607" rx="2.2" ry="6.2" stroke-width="2.24" fill="#fff" />
<path d="M 621,601.5 C 640,603 655,608 690,615.5 L 690,625 C 665,622 640,618 621,612 Z" stroke-width="1.46" fill="#fff" />
<path d="M 690,614 L 699,612.8 C 705,612.5 708,615 707.8,619 L 707.5,624 C 707,627 703,627.5 699,627.3 L 690,626.5 Z" stroke-width="1.46" fill="#fff" />
<ellipse cx="703.8" cy="620.4" rx="1.6" ry="1.8" stroke-width="1.23" fill="#fff" />
<line x1="586.6" y1="579" x2="586.6" y2="591.5" stroke-width="1.34" />
<polyline points="506,565 516.8,567.5 516.8,557.3 533,557.3" fill="none" stroke-width="1.1"/>
<polygon points="543.6,564.0 540.2,567.2 535.6,566.0 534.4,561.6 537.8,558.4 542.4,559.6" stroke-width="1.68" fill="#fff" />
<ellipse cx="539" cy="562.8" rx="2.4" ry="2.4" stroke-width="1.68" fill="#d8d8d8" />
<line x1="539.5" y1="543" x2="539.5" y2="556" stroke-width="1.34" />
<polyline points="651,592.5 662.4,596 662.4,611 700,619.5" fill="none" stroke-width="1.1"/>
<polygon points="650.6,592.4 647.2,595.6 642.6,594.4 641.4,590.0 644.8,586.8 649.4,588.0" stroke-width="1.68" fill="#fff" />
<ellipse cx="646" cy="591.2" rx="2.4" ry="2.4" stroke-width="1.68" fill="#d8d8d8" />
<line x1="647.3" y1="572" x2="647.3" y2="585" stroke-width="1.34" />
<polyline points="707,620.8 724,625.7" class="dd" stroke-width="1.34"/>
<path d="M 738.6,635.5 L 739.1,651 M 743.4,635.5 L 743.9,651" stroke-width="1.46" fill="none" />
<path d="M 737,627.9 L 728,630.3 L 728,633.7 L 737,632.5" stroke-width="1.46" fill="#fff" />
<ellipse cx="725.5" cy="632.5" rx="2.4" ry="2.2" stroke-width="1.34" fill="#333" />
<path d="M 746,621.2 L 738.5,622.2 A 4.2 8.4 0 0 0 738.5,638.8 L 746,637.8 A 4.2 8.4 0 0 0 746,621.2 Z" stroke-width="1.79" fill="#fff" />
<ellipse cx="738.5" cy="630.5" rx="4.2" ry="8.3" stroke-width="1.79" fill="#fff" />
<ellipse cx="737.4" cy="630.7" rx="2.4" ry="5.0" stroke-width="2.69" fill="#555" />
<path d="M 735.5,655.4 L 726.5,657.8 L 726.5,661.2 L 735.5,660" stroke-width="1.46" fill="#fff" />
<ellipse cx="724.0" cy="660" rx="2.4" ry="2.2" stroke-width="1.34" fill="#333" />
<path d="M 744.5,648.7 L 737.0,649.7 A 4.2 8.4 0 0 0 737.0,666.3 L 744.5,665.3 A 4.2 8.4 0 0 0 744.5,648.7 Z" stroke-width="1.79" fill="#fff" />
<ellipse cx="737.0" cy="658" rx="4.2" ry="8.3" stroke-width="1.79" fill="#fff" />
<ellipse cx="735.9" cy="658.2" rx="2.4" ry="5.0" stroke-width="2.69" fill="#555" />
<line x1="743.2" y1="612" x2="743.2" y2="624" stroke-width="1.34" />
<polyline points="724,662.5 696.3,671 696.3,695 772.3,695.8 772.3,800" class="dd" stroke-width="1.46"/>
<g transform="translate(459,598.5) rotate(0) scale(1,1)">
<path d="M -2,-12 C -14,-12 -24,-2 -21,8 C -20,13 -15,18 -8,18 L -5,14 C -12,12 -13,5 -10,-1 C -8,-5 -4,-7 2,-8 Z" stroke-width="1.57" fill="#fff" />
<path d="M -2,-12 C -12,-9 -18,0 -17,8 C -16.5,12 -13,16 -8,18" stroke-width="1.12" fill="none" />
<path d="M -3,-23 L 8,-22.5 L 9,-9 L 4,-6.5 L 2,-8 L -2.5,-12 Z" stroke-width="1.57" fill="#fff" />
<path d="M 8,-22.5 L 9.8,-20 L 9.8,-9.5 L 9,-9" stroke-width="1.12" fill="none" />
<ellipse cx="3.6" cy="-16" rx="1.3" ry="1.3" stroke-width="1.12" fill="#444" />
<path d="M -5,14 L 3,9.5 L 9,12 L 9.5,24.5 L -4.5,24 Z" stroke-width="1.57" fill="#fff" />
<path d="M 3,9.5 L 2,12.5 L -4,16.5 M 2,12.5 L 8,14.5" stroke-width="1.12" fill="none" />
<ellipse cx="2.2" cy="18.5" rx="1.3" ry="1.3" stroke-width="1.12" fill="#444" />
</g>
<g transform="translate(590,643) rotate(0) scale(1,1)">
<path d="M -2,-12 C -14,-12 -24,-2 -21,8 C -20,13 -15,18 -8,18 L -5,14 C -12,12 -13,5 -10,-1 C -8,-5 -4,-7 2,-8 Z" stroke-width="1.57" fill="#fff" />
<path d="M -2,-12 C -12,-9 -18,0 -17,8 C -16.5,12 -13,16 -8,18" stroke-width="1.12" fill="none" />
<path d="M -3,-23 L 8,-22.5 L 9,-9 L 4,-6.5 L 2,-8 L -2.5,-12 Z" stroke-width="1.57" fill="#fff" />
<path d="M 8,-22.5 L 9.8,-20 L 9.8,-9.5 L 9,-9" stroke-width="1.12" fill="none" />
<ellipse cx="3.6" cy="-16" rx="1.3" ry="1.3" stroke-width="1.12" fill="#444" />
<path d="M -5,14 L 3,9.5 L 9,12 L 9.5,24.5 L -4.5,24 Z" stroke-width="1.57" fill="#fff" />
<path d="M 3,9.5 L 2,12.5 L -4,16.5 M 2,12.5 L 8,14.5" stroke-width="1.12" fill="none" />
<ellipse cx="2.2" cy="18.5" rx="1.3" ry="1.3" stroke-width="1.12" fill="#444" />
</g>
<g transform="translate(487.5,592.5) rotate(0) scale(1,1)">
<path d="M -4,-12.5 C -12,-12 -15.5,-4 -13.5,4 C -12.5,9 -8,11 -4,10.5 L 0,13 L 2,-11 Z" stroke-width="1.57" fill="#fff" />
<path d="M -2,-11 C -9,-9.5 -12,-3 -10.5,3.5 C -10,7 -7,9 -4,10.5" stroke-width="1.12" fill="none" />
<path d="M -4,-12.5 L 1,-13.5 L 3,-10" stroke-width="1.23" fill="none" />
<path d="M 0,-1 C 0,-8 5,-10 10,-10 L 14.5,-11 L 15,11.5 L 0,13 Z" stroke-width="1.57" fill="#fff" />
<ellipse cx="7.5" cy="2.5" rx="3.8" ry="5.6" stroke-width="1.46" fill="#fff" transform="rotate(12 7.5 2.5)" />
</g>
<g transform="translate(618.5,635.5) rotate(0) scale(1,1)">
<path d="M -4,-12.5 C -12,-12 -15.5,-4 -13.5,4 C -12.5,9 -8,11 -4,10.5 L 0,13 L 2,-11 Z" stroke-width="1.57" fill="#fff" />
<path d="M -2,-11 C -9,-9.5 -12,-3 -10.5,3.5 C -10,7 -7,9 -4,10.5" stroke-width="1.12" fill="none" />
<path d="M -4,-12.5 L 1,-13.5 L 3,-10" stroke-width="1.23" fill="none" />
<path d="M 0,-1 C 0,-8 5,-10 10,-10 L 14.5,-11 L 15,11.5 L 0,13 Z" stroke-width="1.57" fill="#fff" />
<ellipse cx="7.5" cy="2.5" rx="3.8" ry="5.6" stroke-width="1.46" fill="#fff" transform="rotate(12 7.5 2.5)" />
</g>
<line x1="493.2" y1="605.5" x2="493.2" y2="620" stroke-width="1.34" />
<line x1="624.6" y1="650" x2="624.6" y2="663" stroke-width="1.34" />
<line x1="464" y1="620.5" x2="464" y2="637" stroke-width="1.34" />
<line x1="566" y1="622" x2="584" y2="622" stroke-width="1.34" />
<g transform="translate(387.8,614.6) rotate(-20) scale(1,1)">
<path d="M 3,-1.6 L 13,-1.6 L 13,1.6 L 3,1.6 Z" stroke-width="1.34" fill="#fff" />
<path d="M 5,-1.9000000000000001 L 13,-1.9000000000000001 L 13,1.9000000000000001 L 5,1.9000000000000001 Z" stroke-width="1.12" fill="#555" />
<path d="M 12.1,-2.1 L 12.1,2.1" stroke-width="1.34" fill="none" />
<path d="M 10.299999999999999,-2.1 L 10.299999999999999,2.1" stroke-width="1.34" fill="none" />
<path d="M 8.5,-2.1 L 8.5,2.1" stroke-width="1.34" fill="none" />
<path d="M 6.699999999999999,-2.1 L 6.699999999999999,2.1" stroke-width="1.34" fill="none" />
<ellipse cx="3.2" cy="0" rx="1.8" ry="4.8" stroke-width="1.46" fill="#fff" />
</g>
<polygon points="391.5,615.3 389.1,618.2 385.4,617.5 384.1,613.9 386.5,611.0 390.2,611.7" stroke-width="1.68" fill="#fff" />
<ellipse cx="387.8" cy="614.6" rx="1.71" ry="1.71" stroke-width="1.12" fill="#fff" />
<ellipse cx="416.8" cy="602.6" rx="1.9" ry="3.0" stroke-width="2.24" fill="#666" transform="rotate(-20 416.8 602.6)" />
<ellipse cx="436" cy="594.8" rx="1.9" ry="3.0" stroke-width="2.24" fill="#666" transform="rotate(-20 436 594.8)" />
<line x1="400" y1="609.5" x2="462" y2="583" stroke-width="1.12" />
<g transform="translate(388.8,648) rotate(-20) scale(1,1)">
<path d="M 3,-1.6 L 13,-1.6 L 13,1.6 L 3,1.6 Z" stroke-width="1.34" fill="#fff" />
<path d="M 5,-1.9000000000000001 L 13,-1.9000000000000001 L 13,1.9000000000000001 L 5,1.9000000000000001 Z" stroke-width="1.12" fill="#555" />
<path d="M 12.1,-2.1 L 12.1,2.1" stroke-width="1.34" fill="none" />
<path d="M 10.299999999999999,-2.1 L 10.299999999999999,2.1" stroke-width="1.34" fill="none" />
<path d="M 8.5,-2.1 L 8.5,2.1" stroke-width="1.34" fill="none" />
<path d="M 6.699999999999999,-2.1 L 6.699999999999999,2.1" stroke-width="1.34" fill="none" />
<ellipse cx="3.2" cy="0" rx="1.8" ry="4.8" stroke-width="1.46" fill="#fff" />
</g>
<polygon points="392.5,648.7 390.1,651.6 386.4,650.9 385.1,647.3 387.5,644.4 391.2,645.1" stroke-width="1.68" fill="#fff" />
<ellipse cx="388.8" cy="648" rx="1.71" ry="1.71" stroke-width="1.12" fill="#fff" />
<ellipse cx="418" cy="636.2" rx="1.9" ry="3.0" stroke-width="2.24" fill="#666" transform="rotate(-20 418 636.2)" />
<ellipse cx="437" cy="629" rx="1.9" ry="3.0" stroke-width="2.24" fill="#666" transform="rotate(-20 437 629)" />
<line x1="401" y1="643" x2="460" y2="620" stroke-width="1.12" />
<line x1="390.5" y1="652" x2="390.5" y2="665" stroke-width="1.34" />
<line x1="418.3" y1="640" x2="418.3" y2="655" stroke-width="1.34" />
<line x1="437.6" y1="633" x2="437.6" y2="647" stroke-width="1.34" />
<g transform="translate(517.8,655.5) rotate(-20) scale(1,1)">
<path d="M 3,-1.6 L 13,-1.6 L 13,1.6 L 3,1.6 Z" stroke-width="1.34" fill="#fff" />
<path d="M 5,-1.9000000000000001 L 13,-1.9000000000000001 L 13,1.9000000000000001 L 5,1.9000000000000001 Z" stroke-width="1.12" fill="#555" />
<path d="M 12.1,-2.1 L 12.1,2.1" stroke-width="1.34" fill="none" />
<path d="M 10.299999999999999,-2.1 L 10.299999999999999,2.1" stroke-width="1.34" fill="none" />
<path d="M 8.5,-2.1 L 8.5,2.1" stroke-width="1.34" fill="none" />
<path d="M 6.699999999999999,-2.1 L 6.699999999999999,2.1" stroke-width="1.34" fill="none" />
<ellipse cx="3.2" cy="0" rx="1.8" ry="4.8" stroke-width="1.46" fill="#fff" />
</g>
<polygon points="521.5,656.2 519.1,659.1 515.4,658.4 514.1,654.8 516.5,651.9 520.2,652.6" stroke-width="1.68" fill="#fff" />
<ellipse cx="517.8" cy="655.5" rx="1.71" ry="1.71" stroke-width="1.12" fill="#fff" />
<ellipse cx="547.4" cy="644" rx="1.9" ry="3.0" stroke-width="2.24" fill="#666" transform="rotate(-20 547.4 644)" />
<ellipse cx="566" cy="635.6" rx="1.9" ry="3.0" stroke-width="2.24" fill="#666" transform="rotate(-20 566 635.6)" />
<line x1="530" y1="651" x2="592" y2="627" stroke-width="1.12" />
<g transform="translate(521.8,685.5) rotate(-20) scale(1,1)">
<path d="M 3,-1.6 L 13,-1.6 L 13,1.6 L 3,1.6 Z" stroke-width="1.34" fill="#fff" />
<path d="M 5,-1.9000000000000001 L 13,-1.9000000000000001 L 13,1.9000000000000001 L 5,1.9000000000000001 Z" stroke-width="1.12" fill="#555" />
<path d="M 12.1,-2.1 L 12.1,2.1" stroke-width="1.34" fill="none" />
<path d="M 10.299999999999999,-2.1 L 10.299999999999999,2.1" stroke-width="1.34" fill="none" />
<path d="M 8.5,-2.1 L 8.5,2.1" stroke-width="1.34" fill="none" />
<path d="M 6.699999999999999,-2.1 L 6.699999999999999,2.1" stroke-width="1.34" fill="none" />
<ellipse cx="3.2" cy="0" rx="1.8" ry="4.8" stroke-width="1.46" fill="#fff" />
</g>
<polygon points="525.5,686.2 523.1,689.1 519.4,688.4 518.1,684.8 520.5,681.9 524.2,682.6" stroke-width="1.68" fill="#fff" />
<ellipse cx="521.8" cy="685.5" rx="1.71" ry="1.71" stroke-width="1.12" fill="#fff" />
<ellipse cx="551.3" cy="675.2" rx="1.9" ry="3.0" stroke-width="2.24" fill="#666" transform="rotate(-20 551.3 675.2)" />
<ellipse cx="570" cy="666.8" rx="1.9" ry="3.0" stroke-width="2.24" fill="#666" transform="rotate(-20 570 666.8)" />
<line x1="534" y1="681" x2="592" y2="661" stroke-width="1.12" />
<line x1="523.5" y1="690" x2="523.5" y2="702" stroke-width="1.34" />
<line x1="551.5" y1="679" x2="551.5" y2="692" stroke-width="1.34" />
<line x1="570.5" y1="671" x2="570.5" y2="684" stroke-width="1.34" />
<g transform="translate(714.6,571.5) rotate(0) scale(1,1)">
<path d="M 9,-4.5 L 11.5,-6.5 L 14,-2 L 11,0.8 Z" stroke-width="1.79" fill="#fff" />
<path d="M -3.5,-10.6 L 1,-12 L -0.5,-10" stroke-width="1.79" fill="none" />
<ellipse cx="0" cy="0" rx="12" ry="9.6" stroke-width="2.24" fill="#fff" transform="rotate(40 0 0)" />
<ellipse cx="0.3" cy="0.6" rx="3.9" ry="2.6" stroke-width="2.24" fill="#fff" transform="rotate(35 0.3 0.6)" />
</g>
<g transform="translate(750.1,544) rotate(0) scale(1,1)">
<path d="M -9.5,-1.5 C -13.5,-1 -14,3 -12,5.5 L -8.5,4.5" stroke-width="2.02" fill="#fff" />
<ellipse cx="0" cy="0" rx="12" ry="9.6" stroke-width="2.24" fill="#fff" transform="rotate(40 0 0)" />
<ellipse cx="-0.5" cy="-0.3" rx="3.9" ry="2.6" stroke-width="2.24" fill="#fff" transform="rotate(35 -0.5 -0.3)" />
<ellipse cx="7.6" cy="0.3" rx="1.7" ry="1.5" stroke-width="1.57" fill="#fff" />
<path d="M -1.5,9.3 L 4,11.6 L 6.5,8.6 Z" stroke-width="1.57" fill="#222" />
<path d="M -9,-7.5 C -6,-10.5 -3,-11 0,-10.6" stroke-width="3.36" fill="none" />
</g>
<polyline points="170,781.6 383.1,760 383.1,733.3 471.4,701.7 471.4,868.2 414.7,906.5 414.7,796.6 399,796 399,853.8 293.4,930 293.4,862.5 317,844.7 170,822 170,781.6" class="dd" stroke-width="1.46"/>
<line x1="325.5" y1="767" x2="325.5" y2="775" stroke-width="1.34" />
<line x1="319.2" y1="916" x2="319.2" y2="926" stroke-width="1.34" />
<polyline points="369.8,588 369.8,761.6" class="dd" stroke-width="1.46"/>
<polygon points="224.4,793.8 418.7,768.9 420.0,779.4 388.5,791.2 343.9,796.5 227.0,801.7" stroke-width="1.46" fill="#fff" />
<polygon points="209.9,807.0 296.6,814.9 341.2,823.5 333.9,841.4 208.6,824.6" stroke-width="1.46" fill="#fff" />
<polyline points="208.6,824.6 333.9,841.4" stroke-width="2.24" fill="none" />
<polyline points="220.4,803.6 291.3,809.9" stroke-width="1.12" fill="none" />
<path d="M 330,803 L 372,780 C 380,776.5 387,781 386,788 L 345,816 Z" stroke-width="1.46" fill="#fff" />
<polyline points="336.5,805.7 374.1,783.3" stroke-width="1.12" fill="none" />
<polyline points="385.9,791.2 397.7,789.9 405.6,787.8" stroke-width="1.34" fill="none" />
<polygon points="175.8,810.4 185.0,804.6 196.8,805.7 199.9,809.3 209.9,807.0 208.6,824.6 186.3,823.5 176.3,816.7" stroke-width="1.46" fill="#fff" />
<polyline points="176.3,816.7 189.4,818.8 199.9,809.3" stroke-width="1.23" fill="none" />
<polyline points="189.4,818.8 191.0,824.1" stroke-width="1.12" fill="none" />
<polyline points="200.7,808.8 202.6,824.1" stroke-width="1.34" fill="none" />
<ellipse cx="187" cy="808.8" rx="3.6" ry="2.1" stroke-width="1.34" fill="#fff" />
<polygon points="211.2,800.9 219.1,793.8 225.7,792.5 227.8,795.7 220.4,802.5" stroke-width="1.46" fill="#fff" />
<polygon points="291.3,803.6 296.6,799.9 313.7,800.9 320.8,818.8 315.0,821.4 298.7,818.8" stroke-width="1.57" fill="#fff" />
<polyline points="296.6,799.9 301.8,816.7 298.7,818.8" stroke-width="1.23" fill="none" />
<polyline points="301.8,816.7 317.6,819.3" stroke-width="1.23" fill="none" />
<ellipse cx="306.3" cy="808.8" rx="2.2" ry="2.2" stroke-width="1.23" fill="#fff" />
<path d="M 422.1,790.8 L 435.1,781.3 A 9 11 -37 0 0 421.9,763.7 L 408.9,773.2 Z" stroke-width="1.46" fill="#fff" />
<ellipse cx="415.5" cy="782" rx="9" ry="11" stroke-width="1.68" fill="#fff" transform="rotate(-37 415.5 782)" />
<ellipse cx="416.3" cy="781.5" rx="6.4" ry="8.4" stroke-width="1.46" fill="#fff" transform="rotate(-37 416.3 781.5)" />
<path d="M 409.0,787 A 6.4 8.4 -37 0 0 420.5,790" stroke-width="2.02" fill="none" />
<path d="M 347.8,843.6 L 362.8,832.6 A 9 11 -37 0 0 349.6,815.0 L 334.6,826.0 Z" stroke-width="1.46" fill="#fff" />
<ellipse cx="341.2" cy="834.8" rx="9" ry="11" stroke-width="1.68" fill="#fff" transform="rotate(-37 341.2 834.8)" />
<ellipse cx="342.0" cy="834.3" rx="6.4" ry="8.4" stroke-width="1.46" fill="#fff" transform="rotate(-37 342.0 834.3)" />
<path d="M 334.7,839.8 A 6.4 8.4 -37 0 0 346.2,842.8" stroke-width="2.02" fill="none" />
<g transform="translate(334,800) rotate(-10) scale(1,1)">
<path d="M -3.6,-3 L 3.6,-3 L 3.6,0.5 L -3.6,0.5 Z" stroke-width="1.46" fill="#ccc" />
<path d="M -2.6,-3 L -2,-6 L 2,-6 L 2.6,-3" stroke-width="1.46" fill="#fff" />
<path d="M -2.6,0.5 L -2.6,5 L 2.6,5 L 2.6,0.5" stroke-width="1.34" fill="#fff" />
<path d="M -2.6,2 L 2.6,2 M -2.6,3.5 L 2.6,3.5" stroke-width="1.01" fill="none" />
</g>
<line x1="250" y1="851.5" x2="370" y2="763" stroke-width="1.12" />
<polygon points="250.3,856.0 246.8,859.4 242.0,858.2 240.7,853.6 244.2,850.2 249.0,851.4" stroke-width="1.68" fill="#fff" />
<ellipse cx="245.5" cy="854.8" rx="2.5" ry="2.5" stroke-width="1.68" fill="#d8d8d8" />
<line x1="245" y1="862" x2="245" y2="873" stroke-width="1.34" />
<path d="M 181,846.5 L 183,842.5 L 190,842.0 L 191.5,845.5 L 187,848.5 Z" stroke-width="1.79" fill="#ddd" />
<path d="M 183,842.5 L 185,845.5 L 191.5,845.5 M 182,842.0 L 189,848.5" stroke-width="1.46" fill="none" />
<path d="M 181.79999999999998,867.5 L 191.4,867.5 L 190.9,872.5 L 182.29999999999998,872.5 Z" stroke-width="1.68" fill="#555" />
<ellipse cx="186.6" cy="867.5" rx="4.8" ry="2.2" stroke-width="1.79" fill="#ddd" />
<polyline points="186.3,851 186.3,864" class="dd" stroke-width="1.46"/>
<line x1="186.3" y1="874" x2="186.3" y2="889" stroke-width="1.34" />
<path d="M 161.0,890 L 195.0,889.5" stroke-width="2.24" fill="none" />
<ellipse cx="161.0" cy="890" rx="1.4" ry="1.4" stroke-width="1.12" fill="#fff" />
<g transform="translate(407.1,750) rotate(-8) scale(1,1)">
<path d="M -3.6,-3 L 3.6,-3 L 3.6,0.5 L -3.6,0.5 Z" stroke-width="1.46" fill="#ccc" />
<path d="M -2.6,-3 L -2,-6 L 2,-6 L 2.6,-3" stroke-width="1.46" fill="#fff" />
<path d="M -2.6,0.5 L -2.6,5 L 2.6,5 L 2.6,0.5" stroke-width="1.34" fill="#fff" />
<path d="M -2.6,2 L 2.6,2 M -2.6,3.5 L 2.6,3.5" stroke-width="1.01" fill="none" />
</g>
<line x1="406" y1="731" x2="406" y2="742" stroke-width="1.34" />
<g transform="translate(449.7,759.3) rotate(-37) scale(1,1)">
<path d="M 0,-7.2 L 7,-7.2 A 3.2 7.2 0 0 1 7,7.2 L 0,7.2 Z" stroke-width="1.46" fill="#fff" />
<ellipse cx="-1" cy="0" rx="4.3" ry="8.6" stroke-width="1.79" fill="#fff" />
<ellipse cx="-1.6" cy="0" rx="3.0" ry="5.8" stroke-width="3.36" fill="#888" />
<ellipse cx="-1.8" cy="0" rx="1.4" ry="3.0" stroke-width="1.12" fill="#fff" />
</g>
<line x1="446" y1="738" x2="446" y2="749" stroke-width="1.34" />
<line x1="431" y1="772" x2="443" y2="764" stroke-width="1.12" />
<line x1="457" y1="754" x2="475" y2="739" stroke-width="1.12" />
<polygon points="484.3,736.2 480.9,739.4 476.3,738.2 475.1,733.8 478.5,730.6 483.1,731.8" stroke-width="1.68" fill="#fff" />
<ellipse cx="479.7" cy="735" rx="2.4" ry="2.4" stroke-width="1.68" fill="#d8d8d8" />
<line x1="479.7" y1="719" x2="479.7" y2="728" stroke-width="1.34" />
<polygon points="410.4,801.2 407.0,804.4 402.4,803.2 401.2,798.8 404.6,795.6 409.2,796.8" stroke-width="1.68" fill="#fff" />
<ellipse cx="405.8" cy="800" rx="2.4" ry="2.4" stroke-width="1.68" fill="#d8d8d8" />
<line x1="407.5" y1="807" x2="407.5" y2="819" stroke-width="1.34" />
<g transform="translate(386.4,816.6) rotate(-37) scale(1,1)">
<path d="M -2,-8.4 L 2,-8.4 A 4 8.4 0 0 1 2,8.4 L -2,8.4 A 4 8.4 0 0 1 -2,-8.4 Z" stroke-width="1.57" fill="#fff" />
<path d="M -9,-6.4 L -2,-6.4 A 3 6.4 0 0 1 -2,6.4 L -9,6.4 Z" stroke-width="1.46" fill="#fff" />
<ellipse cx="-9" cy="0" rx="3.0" ry="6.4" stroke-width="1.68" fill="#fff" />
<ellipse cx="-9.3" cy="0" rx="2.0" ry="4.4" stroke-width="2.91" fill="#888" />
</g>
<line x1="385.8" y1="828" x2="385.8" y2="839" stroke-width="1.34" />
<polyline points="364,823 370,832 379,826" fill="none" stroke-width="1.0"/>
<line x1="393" y1="811" x2="401" y2="804" stroke-width="1.12" />
<g transform="translate(324.8,853.2) rotate(-37) scale(1,1)">
<path d="M 0,-7.2 L 7,-7.2 A 3.2 7.2 0 0 1 7,7.2 L 0,7.2 Z" stroke-width="1.46" fill="#fff" />
<ellipse cx="-1" cy="0" rx="4.3" ry="8.6" stroke-width="1.79" fill="#fff" />
<ellipse cx="-1.6" cy="0" rx="3.0" ry="5.8" stroke-width="3.36" fill="#888" />
<ellipse cx="-1.8" cy="0" rx="1.4" ry="3.0" stroke-width="1.12" fill="#fff" />
</g>
<line x1="328" y1="863" x2="328" y2="873" stroke-width="1.34" />
<polyline points="343,836 331,848" class="dd" stroke-width="1.12"/>
<g transform="translate(305.5,868.2) rotate(-37) scale(1,1)">
<path d="M -9.5,-5.4 L 9.5,-5.4 A 2.43 5.4 0 0 1 9.5,5.4 L -9.5,5.4 Z" stroke-width="1.46" fill="#fff" />
<ellipse cx="-9.5" cy="0" rx="2.43" ry="5.4" stroke-width="1.46" fill="#fff" />
<ellipse cx="-9.5" cy="0" rx="1.4580000000000002" ry="2.9700000000000006" stroke-width="1.79" fill="#bbb" />
</g>
<line x1="308" y1="875" x2="308" y2="884" stroke-width="1.34" />
<g transform="translate(269.9,893.1) rotate(-34) scale(1,1)">
<path d="M 3,-1.6 L 25,-1.6 L 25,1.6 L 3,1.6 Z" stroke-width="1.34" fill="#fff" />
<path d="M 16,-1.9000000000000001 L 25,-1.9000000000000001 L 25,1.9000000000000001 L 16,1.9000000000000001 Z" stroke-width="1.12" fill="#555" />
<path d="M 24.1,-2.1 L 24.1,2.1" stroke-width="1.34" fill="none" />
<path d="M 22.3,-2.1 L 22.3,2.1" stroke-width="1.34" fill="none" />
<path d="M 20.5,-2.1 L 20.5,2.1" stroke-width="1.34" fill="none" />
<path d="M 18.700000000000003,-2.1 L 18.700000000000003,2.1" stroke-width="1.34" fill="none" />
<path d="M 16.900000000000002,-2.1 L 16.900000000000002,2.1" stroke-width="1.34" fill="none" />
<ellipse cx="3.2" cy="0" rx="1.8" ry="5.3" stroke-width="1.46" fill="#fff" />
</g>
<polygon points="274.1,893.8 271.4,897.1 267.1,896.4 265.7,892.4 268.4,889.1 272.7,889.8" stroke-width="1.68" fill="#fff" />
<ellipse cx="269.9" cy="893.1" rx="1.935" ry="1.935" stroke-width="1.12" fill="#fff" />
<line x1="279" y1="892" x2="279" y2="903" stroke-width="1.34" />
<line x1="292" y1="878" x2="298" y2="873.5" stroke-width="1.12" />
<g transform="translate(444.7,843.2) rotate(-37) scale(1,1)">
<path d="M 0,-7.2 L 7,-7.2 A 3.2 7.2 0 0 1 7,7.2 L 0,7.2 Z" stroke-width="1.46" fill="#fff" />
<ellipse cx="-1" cy="0" rx="4.3" ry="8.6" stroke-width="1.79" fill="#fff" />
<ellipse cx="-1.6" cy="0" rx="3.0" ry="5.8" stroke-width="3.36" fill="#888" />
<ellipse cx="-1.8" cy="0" rx="1.4" ry="3.0" stroke-width="1.12" fill="#fff" />
</g>
<line x1="452" y1="853" x2="452" y2="861" stroke-width="1.34" />
<polyline points="425,790 467.8,825.5 452,837" class="dd" stroke-width="1.23"/>
<g transform="translate(425.4,856.5) rotate(-37) scale(1,1)">
<path d="M -9.5,-5.4 L 9.5,-5.4 A 2.43 5.4 0 0 1 9.5,5.4 L -9.5,5.4 Z" stroke-width="1.46" fill="#fff" />
<ellipse cx="-9.5" cy="0" rx="2.43" ry="5.4" stroke-width="1.46" fill="#fff" />
<ellipse cx="-9.5" cy="0" rx="1.4580000000000002" ry="2.9700000000000006" stroke-width="1.79" fill="#bbb" />
</g>
<line x1="430" y1="864" x2="430" y2="875" stroke-width="1.34" />
<g transform="translate(387.4,890.5) rotate(-36) scale(1,1)">
<path d="M 3,-1.6 L 26,-1.6 L 26,1.6 L 3,1.6 Z" stroke-width="1.34" fill="#fff" />
<path d="M 17,-1.9000000000000001 L 26,-1.9000000000000001 L 26,1.9000000000000001 L 17,1.9000000000000001 Z" stroke-width="1.12" fill="#555" />
<path d="M 25.1,-2.1 L 25.1,2.1" stroke-width="1.34" fill="none" />
<path d="M 23.3,-2.1 L 23.3,2.1" stroke-width="1.34" fill="none" />
<path d="M 21.5,-2.1 L 21.5,2.1" stroke-width="1.34" fill="none" />
<path d="M 19.700000000000003,-2.1 L 19.700000000000003,2.1" stroke-width="1.34" fill="none" />
<path d="M 17.900000000000002,-2.1 L 17.900000000000002,2.1" stroke-width="1.34" fill="none" />
<ellipse cx="3.2" cy="0" rx="1.8" ry="5.3" stroke-width="1.46" fill="#fff" />
</g>
<polygon points="391.6,891.2 388.9,894.5 384.6,893.8 383.2,889.8 385.9,886.5 390.2,887.2" stroke-width="1.68" fill="#fff" />
<ellipse cx="387.4" cy="890.5" rx="1.935" ry="1.935" stroke-width="1.12" fill="#fff" />
<line x1="400" y1="887" x2="400" y2="898" stroke-width="1.34" />
<line x1="410" y1="873" x2="417" y2="867" stroke-width="1.12" />
<g transform="translate(496.3,790) rotate(0) scale(1,1)">
<path d="M 9,-4.5 L 11.5,-6.5 L 14,-2 L 11,0.8 Z" stroke-width="1.79" fill="#fff" />
<path d="M -3.5,-10.6 L 1,-12 L -0.5,-10" stroke-width="1.79" fill="none" />
<ellipse cx="0" cy="0" rx="12" ry="9.6" stroke-width="2.24" fill="#fff" transform="rotate(40 0 0)" />
<ellipse cx="0.3" cy="0.6" rx="3.9" ry="2.6" stroke-width="2.24" fill="#fff" transform="rotate(35 0.3 0.6)" />
</g>
<line x1="493" y1="770" x2="493" y2="779" stroke-width="1.34" />
<g transform="translate(531,763.5) rotate(0) scale(1,1)">
<path d="M -9.5,-1.5 C -13.5,-1 -14,3 -12,5.5 L -8.5,4.5" stroke-width="2.02" fill="#fff" />
<ellipse cx="0" cy="0" rx="12" ry="9.6" stroke-width="2.24" fill="#fff" transform="rotate(40 0 0)" />
<ellipse cx="-0.5" cy="-0.3" rx="3.9" ry="2.6" stroke-width="2.24" fill="#fff" transform="rotate(35 -0.5 -0.3)" />
<ellipse cx="7.6" cy="0.3" rx="1.7" ry="1.5" stroke-width="1.57" fill="#fff" />
<path d="M -1.5,9.3 L 4,11.6 L 6.5,8.6 Z" stroke-width="1.57" fill="#222" />
<path d="M -9,-7.5 C -6,-10.5 -3,-11 0,-10.6" stroke-width="3.36" fill="none" />
</g>
<line x1="526.4" y1="744" x2="526.4" y2="753" stroke-width="1.34" />
<g transform="translate(220,930) rotate(0) scale(1,1)">
<path d="M -9.5,-1.5 C -13.5,-1 -14,3 -12,5.5 L -8.5,4.5" stroke-width="2.02" fill="#fff" />
<ellipse cx="0" cy="0" rx="12" ry="9.6" stroke-width="2.24" fill="#fff" transform="rotate(40 0 0)" />
<ellipse cx="-0.5" cy="-0.3" rx="3.9" ry="2.6" stroke-width="2.24" fill="#fff" transform="rotate(35 -0.5 -0.3)" />
<ellipse cx="7.6" cy="0.3" rx="1.7" ry="1.5" stroke-width="1.57" fill="#fff" />
<path d="M -1.5,9.3 L 4,11.6 L 6.5,8.6 Z" stroke-width="1.57" fill="#222" />
<path d="M -9,-7.5 C -6,-10.5 -3,-11 0,-10.6" stroke-width="3.36" fill="none" />
</g>
<line x1="216" y1="911" x2="216" y2="919" stroke-width="1.34" />
<g transform="translate(184,957) rotate(0) scale(1,1)">
<path d="M 9,-4.5 L 11.5,-6.5 L 14,-2 L 11,0.8 Z" stroke-width="1.79" fill="#fff" />
<path d="M -3.5,-10.6 L 1,-12 L -0.5,-10" stroke-width="1.79" fill="none" />
<ellipse cx="0" cy="0" rx="12" ry="9.6" stroke-width="2.24" fill="#fff" transform="rotate(40 0 0)" />
<ellipse cx="0.3" cy="0.6" rx="3.9" ry="2.6" stroke-width="2.24" fill="#fff" transform="rotate(35 0.3 0.6)" />
</g>
<line x1="181.6" y1="936" x2="181.6" y2="946" stroke-width="1.34" />
<polyline points="575.8,830.8 575.8,767.1 634.8,727 706,727 931.5,911.4 931.5,971.4 625.4,902.9 544.5,959.2 500,915.8 633.5,794 644,851.8 674.3,827.5 631.6,771.7 620.4,780.9" class="dd" stroke-width="1.46"/>
<polyline points="575.8,830.8 633.5,783.5" class="dd" stroke-width="1.46"/>
<line x1="807.7" y1="849" x2="807.7" y2="858" stroke-width="1.34" />
<line x1="781.4" y1="938" x2="781.4" y2="951" stroke-width="1.34" />
<polygon points="708.2,789.4 877.1,907.6 860.2,915.1 702.6,818.3" stroke-width="1.46" fill="#fff" />
<polyline points="708.2,789.4 877.1,907.6" stroke-width="2.24" fill="none" />
<path d="M 689.5,848 L 718,821.5 C 723,817 734,819 735,827 L 736.4,846.3 L 699,870.7 Z" stroke-width="1.46" fill="#fff" />
<path d="M 718,821.5 C 722,826 723,838 721,851" stroke-width="1.12" fill="none" />
<polyline points="704.5,832.6 725.1,818.3" stroke-width="1.12" fill="none" />
<polyline points="734.5,832.6 736.4,845.7" stroke-width="1.12" fill="none" />
<polygon points="616.3,855.8 860.2,915.1 871.4,949.6 605.0,884.4" stroke-width="1.46" fill="#fff" />
<polyline points="605.0,884.4 871.4,949.6" stroke-width="2.24" fill="none" />
<polyline points="693.2,873.8 856.4,913.2" stroke-width="1.34" fill="none" />
<polygon points="862.6,910.4 880.7,906.5 886.3,908.1 897.5,928.4 905.4,932.9 915.6,935.2 922.3,939.1 925.9,944.7 925.9,951.5 922.9,955.4 917.8,957.7 890.8,954.3 857.0,946.4 860.4,925.0" stroke-width="1.68" fill="#fff" />
<polyline points="869.4,913.8 882.9,909.8 895.9,929.5 903.2,934.6" stroke-width="1.46" fill="none" />
<polyline points="869.4,913.8 868.8,924.5 881.2,940.8 893.0,945.3" stroke-width="1.46" fill="none" />
<polyline points="882.9,909.8 879.5,925.0 868.8,924.5" stroke-width="1.23" fill="none" />
<polyline points="879.5,925.0 885.2,941.4" stroke-width="1.23" fill="none" />
<polyline points="885.2,927.3 900.4,936.3 893.6,944.7" stroke-width="1.23" fill="none" />
<polyline points="888.5,929.5 882.9,936.3" stroke-width="1.01" fill="none" />
<polyline points="905.4,932.9 902.0,939.7 893.0,946.4 890.8,954.3" stroke-width="1.34" fill="none" />
<polyline points="893.0,946.4 904.3,949.2 915.6,948.7 925.7,944.2" stroke-width="1.34" fill="none" />
<polyline points="866.0,927.3 862.9,947.5" stroke-width="1.23" fill="none" />
<polyline points="862.6,910.4 863.8,917.1 860.4,925.0" stroke-width="1.12" fill="none" />
<ellipse cx="912.2" cy="943" rx="5.6" ry="2.9" stroke-width="1.57" fill="#fff" />
<polygon points="655.7,864.5 666.9,846.8 689.5,851.3 697.0,860.7 691.3,882.1 668.8,874.6" stroke-width="1.57" fill="#fff" />
<polyline points="666.9,846.8 672.6,851.3 668.8,874.6" stroke-width="1.23" fill="none" />
<polyline points="672.6,851.3 691.3,855.8" stroke-width="1.12" fill="none" />
<polyline points="689.5,851.3 685.7,877.6" stroke-width="1.12" fill="none" />
<ellipse cx="680.8" cy="860.7" rx="2.2" ry="2.2" stroke-width="1.23" fill="#ccc" />
<path d="M 694.4,816.2 L 709.4,804.2 A 13 14.5 -37 0 0 692.0,781.0 L 677.0,793.0 Z" stroke-width="1.46" fill="#fff" />
<ellipse cx="685.7" cy="804.6" rx="13" ry="14.5" stroke-width="1.68" fill="#fff" transform="rotate(-37 685.7 804.6)" />
<ellipse cx="686.5" cy="804.1" rx="10.4" ry="11.9" stroke-width="1.46" fill="#fff" transform="rotate(-37 686.5 804.1)" />
<path d="M 675.2,809.6 A 10.4 11.9 -37 0 0 690.7,816.1" stroke-width="2.02" fill="none" />
<path d="M 604.3,881.9 L 619.3,869.9 A 13 14.5 -37 0 0 601.9,846.7 L 586.9,858.7 Z" stroke-width="1.46" fill="#fff" />
<ellipse cx="595.6" cy="870.3" rx="13" ry="14.5" stroke-width="1.68" fill="#fff" transform="rotate(-37 595.6 870.3)" />
<ellipse cx="596.4" cy="869.8" rx="10.4" ry="11.9" stroke-width="1.46" fill="#fff" transform="rotate(-37 596.4 869.8)" />
<path d="M 585.1,875.3 A 10.4 11.9 -37 0 0 600.6,881.8" stroke-width="2.02" fill="none" />
<ellipse cx="690" cy="810" rx="1.2" ry="0.8" stroke-width="1.12" fill="#333" />
<ellipse cx="600" cy="875.5" rx="1.2" ry="0.8" stroke-width="1.12" fill="#333" />
<polyline points="914.5,985 914.5,996" class="dd" stroke-width="1.46"/>
<path d="M 909.5,1001.5 L 911.5,997.5 L 918.5,997.0 L 920.0,1000.5 L 915.5,1003.5 Z" stroke-width="1.79" fill="#ddd" />
<path d="M 911.5,997.5 L 913.5,1000.5 L 920.0,1000.5 M 910.5,997.0 L 917.5,1003.5" stroke-width="1.46" fill="none" />
<path d="M 910.2,1015.5 L 919.8,1015.5 L 919.3,1020.5 L 910.7,1020.5 Z" stroke-width="1.68" fill="#555" />
<ellipse cx="915" cy="1015.5" rx="4.8" ry="2.2" stroke-width="1.79" fill="#ddd" />
<line x1="915" y1="1022" x2="915" y2="1036" stroke-width="1.34" />
<path d="M 904.0,1037 L 926.0,1036.5" stroke-width="2.24" fill="none" />
<ellipse cx="904.0" cy="1037" rx="1.4" ry="1.4" stroke-width="1.12" fill="#fff" />
<line x1="889" y1="1039" x2="903" y2="1039" stroke-width="1.34" />
<polyline points="895.7,677.7 821.2,677.7 821.2,684" class="dd" stroke-width="1.46"/>
<path d="M 813,690 L 815,686 L 822,685.5 L 823.5,689 L 819,692 Z" stroke-width="1.79" fill="#ddd" />
<path d="M 815,686 L 817,689 L 823.5,689 M 814,685.5 L 821,692" stroke-width="1.46" fill="none" />
<path d="M 816.4000000000001,713.5 L 826.0,713.5 L 825.5,718.5 L 816.9000000000001,718.5 Z" stroke-width="1.68" fill="#555" />
<ellipse cx="821.2" cy="713.5" rx="4.8" ry="2.2" stroke-width="1.79" fill="#ddd" />
<polyline points="821,694 821,710" class="dd" stroke-width="1.46"/>
<line x1="821" y1="720" x2="821" y2="738" stroke-width="1.34" />
<path d="M 810.5,739.2 L 828.5,738.7" stroke-width="2.24" fill="none" />
<ellipse cx="810.5" cy="739.2" rx="1.4" ry="1.4" stroke-width="1.12" fill="#fff" />
<line x1="798" y1="744.5" x2="810" y2="742" stroke-width="1.34" />
<g transform="translate(701.8,767) rotate(-8) scale(1,1)">
<path d="M -3.6,-3 L 3.6,-3 L 3.6,0.5 L -3.6,0.5 Z" stroke-width="1.46" fill="#ccc" />
<path d="M -2.6,-3 L -2,-6 L 2,-6 L 2.6,-3" stroke-width="1.46" fill="#fff" />
<path d="M -2.6,0.5 L -2.6,5 L 2.6,5 L 2.6,0.5" stroke-width="1.34" fill="#fff" />
<path d="M -2.6,2 L 2.6,2 M -2.6,3.5 L 2.6,3.5" stroke-width="1.01" fill="none" />
</g>
<line x1="699.5" y1="750" x2="699.5" y2="759" stroke-width="1.34" />
<g transform="translate(720,778.8) rotate(-37) scale(1,1)">
<path d="M -2,-8.4 L 2,-8.4 A 4 8.4 0 0 1 2,8.4 L -2,8.4 A 4 8.4 0 0 1 -2,-8.4 Z" stroke-width="1.57" fill="#fff" />
<path d="M -9,-6.4 L -2,-6.4 A 3 6.4 0 0 1 -2,6.4 L -9,6.4 Z" stroke-width="1.46" fill="#fff" />
<ellipse cx="-9" cy="0" rx="3.0" ry="6.4" stroke-width="1.68" fill="#fff" />
<ellipse cx="-9.3" cy="0" rx="2.0" ry="4.4" stroke-width="2.91" fill="#888" />
</g>
<line x1="716" y1="759" x2="716" y2="769" stroke-width="1.34" />
<line x1="727" y1="773" x2="745" y2="759" stroke-width="1.12" />
<polygon points="754.8,756.8 751.4,760.0 746.8,758.8 745.6,754.4 749.0,751.2 753.6,752.4" stroke-width="1.68" fill="#fff" />
<ellipse cx="750.2" cy="755.6" rx="2.4" ry="2.4" stroke-width="1.68" fill="#d8d8d8" />
<line x1="750.2" y1="738" x2="750.2" y2="749" stroke-width="1.34" />
<g transform="translate(612.5,786.8) rotate(-37) scale(1,1)">
<path d="M 0,-7.2 L 7,-7.2 A 3.2 7.2 0 0 1 7,7.2 L 0,7.2 Z" stroke-width="1.46" fill="#fff" />
<ellipse cx="-1" cy="0" rx="4.3" ry="8.6" stroke-width="1.79" fill="#fff" />
<ellipse cx="-1.6" cy="0" rx="3.0" ry="5.8" stroke-width="3.36" fill="#888" />
<ellipse cx="-1.8" cy="0" rx="1.4" ry="3.0" stroke-width="1.12" fill="#fff" />
</g>
<line x1="612.5" y1="766" x2="612.5" y2="777" stroke-width="1.34" />
<g transform="translate(594.1,801.9) rotate(-37) scale(1,1)">
<path d="M -9.5,-5.4 L 9.5,-5.4 A 2.43 5.4 0 0 1 9.5,5.4 L -9.5,5.4 Z" stroke-width="1.46" fill="#fff" />
<ellipse cx="-9.5" cy="0" rx="2.43" ry="5.4" stroke-width="1.46" fill="#fff" />
<ellipse cx="-9.5" cy="0" rx="1.4580000000000002" ry="2.9700000000000006" stroke-width="1.79" fill="#bbb" />
</g>
<line x1="588.6" y1="784" x2="588.6" y2="795" stroke-width="1.34" />
<g transform="translate(546.8,839.6) rotate(-35) scale(1,1)">
<path d="M 3,-1.6 L 25,-1.6 L 25,1.6 L 3,1.6 Z" stroke-width="1.34" fill="#fff" />
<path d="M 16,-1.9000000000000001 L 25,-1.9000000000000001 L 25,1.9000000000000001 L 16,1.9000000000000001 Z" stroke-width="1.12" fill="#555" />
<path d="M 24.1,-2.1 L 24.1,2.1" stroke-width="1.34" fill="none" />
<path d="M 22.3,-2.1 L 22.3,2.1" stroke-width="1.34" fill="none" />
<path d="M 20.5,-2.1 L 20.5,2.1" stroke-width="1.34" fill="none" />
<path d="M 18.700000000000003,-2.1 L 18.700000000000003,2.1" stroke-width="1.34" fill="none" />
<path d="M 16.900000000000002,-2.1 L 16.900000000000002,2.1" stroke-width="1.34" fill="none" />
<ellipse cx="3.2" cy="0" rx="1.8" ry="5.3" stroke-width="1.46" fill="#fff" />
</g>
<polygon points="551.0,840.3 548.3,843.6 544.0,842.9 542.6,838.9 545.3,835.6 549.6,836.3" stroke-width="1.68" fill="#fff" />
<ellipse cx="546.8" cy="839.6" rx="1.935" ry="1.935" stroke-width="1.12" fill="#fff" />
<line x1="551" y1="820" x2="551" y2="832" stroke-width="1.34" />
<line x1="569" y1="824" x2="586" y2="810" stroke-width="1.12" />
<g transform="translate(631.6,841.9) rotate(-37) scale(1,1)">
<path d="M -2,-8.4 L 2,-8.4 A 4 8.4 0 0 1 2,8.4 L -2,8.4 A 4 8.4 0 0 1 -2,-8.4 Z" stroke-width="1.57" fill="#fff" />
<path d="M -9,-6.4 L -2,-6.4 A 3 6.4 0 0 1 -2,6.4 L -9,6.4 Z" stroke-width="1.46" fill="#fff" />
<ellipse cx="-9" cy="0" rx="3.0" ry="6.4" stroke-width="1.68" fill="#fff" />
<ellipse cx="-9.3" cy="0" rx="2.0" ry="4.4" stroke-width="2.91" fill="#888" />
</g>
<line x1="627.6" y1="821" x2="627.6" y2="832" stroke-width="1.34" />
<polygon points="649.8,831.2 646.6,834.3 642.1,833.2 641.0,829.0 644.2,825.9 648.7,827.0" stroke-width="1.68" fill="#fff" />
<ellipse cx="645.4" cy="830.1" rx="2.3" ry="2.3" stroke-width="1.68" fill="#d8d8d8" />
<line x1="644" y1="813" x2="644" y2="824" stroke-width="1.34" />
<g transform="translate(610,833.5) rotate(-10) scale(1,1)">
<path d="M -3.6,-3 L 3.6,-3 L 3.6,0.5 L -3.6,0.5 Z" stroke-width="1.46" fill="#ccc" />
<path d="M -2.6,-3 L -2,-6 L 2,-6 L 2.6,-3" stroke-width="1.46" fill="#fff" />
<path d="M -2.6,0.5 L -2.6,5 L 2.6,5 L 2.6,0.5" stroke-width="1.34" fill="#fff" />
<path d="M -2.6,2 L 2.6,2 M -2.6,3.5 L 2.6,3.5" stroke-width="1.01" fill="none" />
</g>
<polyline points="577.3,884.2 596.1,904.1 575,922" class="dd" stroke-width="1.23"/>
<g transform="translate(566.8,928.7) rotate(-37) scale(1,1)">
<path d="M 0,-7.2 L 7,-7.2 A 3.2 7.2 0 0 1 7,7.2 L 0,7.2 Z" stroke-width="1.46" fill="#fff" />
<ellipse cx="-1" cy="0" rx="4.3" ry="8.6" stroke-width="1.79" fill="#fff" />
<ellipse cx="-1.6" cy="0" rx="3.0" ry="5.8" stroke-width="3.36" fill="#888" />
<ellipse cx="-1.8" cy="0" rx="1.4" ry="3.0" stroke-width="1.12" fill="#fff" />
</g>
<line x1="565.6" y1="908" x2="565.6" y2="918" stroke-width="1.34" />
<g transform="translate(548,944) rotate(-37) scale(1,1)">
<path d="M -9.5,-5.4 L 9.5,-5.4 A 2.43 5.4 0 0 1 9.5,5.4 L -9.5,5.4 Z" stroke-width="1.46" fill="#fff" />
<ellipse cx="-9.5" cy="0" rx="2.43" ry="5.4" stroke-width="1.46" fill="#fff" />
<ellipse cx="-9.5" cy="0" rx="1.4580000000000002" ry="2.9700000000000006" stroke-width="1.79" fill="#bbb" />
</g>
<line x1="542.1" y1="927" x2="542.1" y2="937" stroke-width="1.34" />
<g transform="translate(508.6,974.5) rotate(-34) scale(1,1)">
<path d="M 3,-1.6 L 25,-1.6 L 25,1.6 L 3,1.6 Z" stroke-width="1.34" fill="#fff" />
<path d="M 16,-1.9000000000000001 L 25,-1.9000000000000001 L 25,1.9000000000000001 L 16,1.9000000000000001 Z" stroke-width="1.12" fill="#555" />
<path d="M 24.1,-2.1 L 24.1,2.1" stroke-width="1.34" fill="none" />
<path d="M 22.3,-2.1 L 22.3,2.1" stroke-width="1.34" fill="none" />
<path d="M 20.5,-2.1 L 20.5,2.1" stroke-width="1.34" fill="none" />
<path d="M 18.700000000000003,-2.1 L 18.700000000000003,2.1" stroke-width="1.34" fill="none" />
<path d="M 16.900000000000002,-2.1 L 16.900000000000002,2.1" stroke-width="1.34" fill="none" />
<ellipse cx="3.2" cy="0" rx="1.8" ry="5.3" stroke-width="1.46" fill="#fff" />
</g>
<polygon points="512.8,975.2 510.1,978.5 505.8,977.8 504.4,973.8 507.1,970.5 511.4,971.2" stroke-width="1.68" fill="#fff" />
<ellipse cx="508.6" cy="974.5" rx="1.935" ry="1.935" stroke-width="1.12" fill="#fff" />
<line x1="512.8" y1="956" x2="512.8" y2="968" stroke-width="1.34" />
<line x1="531" y1="958" x2="540" y2="951" stroke-width="1.12" />
<polyline points="625.4,904 625.4,931 608,943" fill="none" stroke-width="1.1"/>
<polygon points="606.6,948.2 603.2,951.4 598.6,950.2 597.4,945.8 600.8,942.6 605.4,943.8" stroke-width="1.68" fill="#fff" />
<ellipse cx="602" cy="947" rx="2.4" ry="2.4" stroke-width="1.68" fill="#d8d8d8" />
<line x1="600.8" y1="954" x2="600.8" y2="965" stroke-width="1.34" />
<g transform="translate(859.5,776) rotate(0) scale(1,1)">
<path d="M -9.5,-1.5 C -13.5,-1 -14,3 -12,5.5 L -8.5,4.5" stroke-width="2.02" fill="#fff" />
<ellipse cx="0" cy="0" rx="12" ry="9.6" stroke-width="2.24" fill="#fff" transform="rotate(40 0 0)" />
<ellipse cx="-0.5" cy="-0.3" rx="3.9" ry="2.6" stroke-width="2.24" fill="#fff" transform="rotate(35 -0.5 -0.3)" />
<ellipse cx="7.6" cy="0.3" rx="1.7" ry="1.5" stroke-width="1.57" fill="#fff" />
<path d="M -1.5,9.3 L 4,11.6 L 6.5,8.6 Z" stroke-width="1.57" fill="#222" />
<path d="M -9,-7.5 C -6,-10.5 -3,-11 0,-10.6" stroke-width="3.36" fill="none" />
</g>
<line x1="854.6" y1="757" x2="854.6" y2="765" stroke-width="1.34" />
<g transform="translate(824.6,804) rotate(0) scale(1,1)">
<path d="M 9,-4.5 L 11.5,-6.5 L 14,-2 L 11,0.8 Z" stroke-width="1.79" fill="#fff" />
<path d="M -3.5,-10.6 L 1,-12 L -0.5,-10" stroke-width="1.79" fill="none" />
<ellipse cx="0" cy="0" rx="12" ry="9.6" stroke-width="2.24" fill="#fff" transform="rotate(40 0 0)" />
<ellipse cx="0.3" cy="0.6" rx="3.9" ry="2.6" stroke-width="2.24" fill="#fff" transform="rotate(35 0.3 0.6)" />
</g>
<line x1="820.8" y1="782" x2="820.8" y2="793" stroke-width="1.34" />
<g transform="translate(489.5,992) rotate(0) scale(1,1)">
<path d="M -9.5,-1.5 C -13.5,-1 -14,3 -12,5.5 L -8.5,4.5" stroke-width="2.02" fill="#fff" />
<ellipse cx="0" cy="0" rx="12" ry="9.6" stroke-width="2.24" fill="#fff" transform="rotate(40 0 0)" />
<ellipse cx="-0.5" cy="-0.3" rx="3.9" ry="2.6" stroke-width="2.24" fill="#fff" transform="rotate(35 -0.5 -0.3)" />
<ellipse cx="7.6" cy="0.3" rx="1.7" ry="1.5" stroke-width="1.57" fill="#fff" />
<path d="M -1.5,9.3 L 4,11.6 L 6.5,8.6 Z" stroke-width="1.57" fill="#222" />
<path d="M -9,-7.5 C -6,-10.5 -3,-11 0,-10.6" stroke-width="3.36" fill="none" />
</g>
<line x1="484.7" y1="973" x2="484.7" y2="981" stroke-width="1.34" />
<g transform="translate(454,1019) rotate(0) scale(1,1)">
<path d="M 9,-4.5 L 11.5,-6.5 L 14,-2 L 11,0.8 Z" stroke-width="1.79" fill="#fff" />
<path d="M -3.5,-10.6 L 1,-12 L -0.5,-10" stroke-width="1.79" fill="none" />
<ellipse cx="0" cy="0" rx="12" ry="9.6" stroke-width="2.24" fill="#fff" transform="rotate(40 0 0)" />
<ellipse cx="0.3" cy="0.6" rx="3.9" ry="2.6" stroke-width="2.24" fill="#fff" transform="rotate(35 0.3 0.6)" />
</g>
<line x1="451" y1="998" x2="451" y2="1008" stroke-width="1.34" />
<polygon points="211.5,973.9 233.4,956.8 322.4,964.1 346.8,982.4 350.5,1028.8 312.7,1058.0 254.1,1086.1 250.5,1039.8 227.3,1019.0 213.9,1015.4" stroke-width="1.79" fill="#fff" />
<polyline points="233.4,956.8 322.4,964.1 346.8,982.4" stroke-width="2.69" fill="none" />
<polyline points="213.9,978.8 266.3,978.8 295.6,996.3 346.8,1001.2" stroke-width="1.12" fill="none" />
<polyline points="213.9,987.3 271.2,993.9 302.9,1008.5 348.0,1012.2" stroke-width="1.12" fill="none" />
<polyline points="213.9,989.8 270.0,996.3 301.7,1010.5 348.0,1014.6" stroke-width="0.9" fill="none" />
<polyline points="266.3,978.8 271.2,993.9" stroke-width="0.9" fill="none" />
<polyline points="295.6,996.3 302.9,1008.5" stroke-width="0.9" fill="none" />
<polyline points="215.1,1015.4 290.7,1023.2 349.3,1027.6" stroke-width="1.12" fill="none" />
<polyline points="227.3,1019.0 290.7,1025.1 348.0,1029.5" stroke-width="0.9" fill="none" />
<path d="M 246,1034 C 252,1027 282,1027 288,1035 C 283,1043 262,1049 250,1046 Z" stroke-width="1.46" fill="#fff" />
<path d="M 246,1034 C 254,1031 280,1031 288,1035" stroke-width="1.01" fill="none" />
<polyline points="288.3,1052.0 310.2,1033.7 323.7,1034.9 322.9,1037.8 290.7,1058.0 256.6,1070.2" stroke-width="1.46" fill="none" />
<polyline points="254.6,1072.0 285.9,1057.3 290.7,1058.0" stroke-width="1.12" fill="none" />
<polyline points="254.6,1077.6 312.7,1054.4 349.3,1028.0" stroke-width="1.23" fill="none" />
<ellipse cx="241" cy="1028" rx="1.6" ry="0.9" stroke-width="1.12" fill="#fff" />
<ellipse cx="303" cy="1033" rx="1.6" ry="0.9" stroke-width="1.12" fill="#fff" />
<polygon points="135.9,1019.0 154.1,1004.4 227.3,1019.0 250.5,1039.8 253.7,1086.1 248.0,1084.1 142.0,1062.9" stroke-width="1.79" fill="#fff" />
<polyline points="154.1,1004.4 227.3,1019.0 250.5,1039.8" stroke-width="2.46" fill="none" />
<polyline points="138.3,1023.9 183.4,1032.4 212.7,1059.3 249.3,1069.5" stroke-width="1.12" fill="none" />
<polyline points="142.0,1058.0 251.7,1079.3" stroke-width="1.01" fill="none" />
<polyline points="250.5,1039.8 253.7,1086.1" stroke-width="2.24" fill="none" />
<line x1="258.5" y1="944" x2="258.5" y2="956.5" stroke-width="1.34" />
<line x1="234.1" y1="1091" x2="234.1" y2="1109" stroke-width="1.34" />
<path d="M 232.79999999999998,1108 L 232.79999999999998,1113 L 235.4,1113 L 235.4,1108 Z" stroke-width="1.12" fill="#444" />
<ellipse cx="234.1" cy="1114" rx="3.4" ry="2.2" stroke-width="1.46" fill="#fff" />
<ellipse cx="234.1" cy="1116.2" rx="2.6" ry="1.8" stroke-width="1.46" fill="#fff" />
<line x1="237.1" y1="1111.5" x2="249.1" y2="1111.5" stroke-width="1.34" />
<line x1="304.3" y1="1077.5" x2="304.3" y2="1095.5" stroke-width="1.34" />
<path d="M 303.0,1094.5 L 303.0,1099.5 L 305.6,1099.5 L 305.6,1094.5 Z" stroke-width="1.12" fill="#444" />
<ellipse cx="304.3" cy="1100.5" rx="3.4" ry="2.2" stroke-width="1.46" fill="#fff" />
<ellipse cx="304.3" cy="1102.7" rx="2.6" ry="1.8" stroke-width="1.46" fill="#fff" />
<line x1="307.3" y1="1098.0" x2="319.3" y2="1098.0" stroke-width="1.34" />
<polygon points="627.6,1062.7 680.0,1039.5 703.2,1005.4 728.8,1005.4 799.5,1063.9 805.6,1092.0 782.4,1126.1 741.0,1144.4 728.8,1113.9 650.7,1066.3" stroke-width="1.79" fill="#fff" />
<polyline points="728.8,1005.4 799.5,1063.9 805.6,1092.0" stroke-width="2.69" fill="none" />
<polyline points="694.6,1020.0 726.3,1044.4 759.3,1052.9 803.2,1087.1" stroke-width="1.12" fill="none" />
<polyline points="689.8,1027.3 722.7,1051.7 756.8,1059.8 800.7,1092.0" stroke-width="1.12" fill="none" />
<polyline points="691.0,1029.8 721.5,1054.1 755.6,1062.2 798.3,1094.9" stroke-width="0.9" fill="none" />
<polyline points="726.3,1044.4 722.7,1051.7" stroke-width="0.9" fill="none" />
<polyline points="759.3,1052.9 756.8,1059.8" stroke-width="0.9" fill="none" />
<polyline points="680.0,1039.5 782.4,1126.1" stroke-width="1.12" fill="none" />
<polyline points="683.7,1037.1 784.9,1122.4" stroke-width="0.9" fill="none" />
<polyline points="653.2,1066.3 677.6,1054.1 684.9,1054.9 689.8,1059.8 664.1,1074.9" stroke-width="1.46" fill="none" />
<polyline points="656.8,1067.6 678.8,1057.1 687.3,1060.2" stroke-width="1.01" fill="none" />
<ellipse cx="696.6" cy="1067.5" rx="2.2" ry="1.5" stroke-width="1.23" fill="#bbb" />
<path d="M 687.5,1086 C 692,1076 710,1074 722,1085 C 728,1091 729,1098 728.5,1101.5" stroke-width="1.57" fill="none" />
<path d="M 690,1087.5 C 696,1080 712,1080 722,1090" stroke-width="1.01" fill="none" />
<ellipse cx="741" cy="1108" rx="2.2" ry="1.5" stroke-width="1.23" fill="#bbb" />
<polyline points="736.1,1118.8 750.7,1112.7 758.0,1115.9 759.3,1119.3 738.5,1129.8" stroke-width="1.46" fill="none" />
<polyline points="738.5,1120.7 751.5,1115.4 758.0,1118.0" stroke-width="1.01" fill="none" />
<polygon points="597.1,1100.5 619.0,1067.6 650.7,1066.3 728.8,1113.9 741.0,1138.3 719.0,1172.4" stroke-width="1.79" fill="#fff" />
<polyline points="619.0,1067.6 650.7,1066.3 728.8,1113.9 741.0,1138.3" stroke-width="2.69" fill="none" />
<polyline points="605.6,1089.5 643.4,1111.5 684.9,1112.7 736.1,1140.7" stroke-width="1.12" fill="none" />
<polyline points="606.8,1092.0 643.9,1113.9 684.4,1115.1 734.9,1143.2" stroke-width="0.9" fill="none" />
<polyline points="600.7,1097.6 721.0,1168.8" stroke-width="1.01" fill="none" />
<polyline points="741.0,1138.3 719.0,1172.4" stroke-width="2.24" fill="none" />
<line x1="720.2" y1="989" x2="720.2" y2="1004" stroke-width="1.34" />
<line x1="686.2" y1="1167.5" x2="686.2" y2="1185.5" stroke-width="1.34" />
<path d="M 684.9000000000001,1184.5 L 684.9000000000001,1189.5 L 687.5,1189.5 L 687.5,1184.5 Z" stroke-width="1.12" fill="#444" />
<ellipse cx="686.2" cy="1190.5" rx="3.4" ry="2.2" stroke-width="1.46" fill="#fff" />
<ellipse cx="686.2" cy="1192.7" rx="2.6" ry="1.8" stroke-width="1.46" fill="#fff" />
<line x1="689.2" y1="1188.0" x2="701.2" y2="1188.0" stroke-width="1.34" />
<line x1="740" y1="1174.5" x2="740" y2="1192.5" stroke-width="1.34" />
<path d="M 738.7,1191.5 L 738.7,1196.5 L 741.3,1196.5 L 741.3,1191.5 Z" stroke-width="1.12" fill="#444" />
<ellipse cx="740" cy="1197.5" rx="3.4" ry="2.2" stroke-width="1.46" fill="#fff" />
<ellipse cx="740" cy="1199.7" rx="2.6" ry="1.8" stroke-width="1.46" fill="#fff" />
<line x1="743" y1="1195.0" x2="755" y2="1195.0" stroke-width="1.34" />
<polyline points="250.3,304 250.3,418.4 209.2,418.4 209.2,437" class="dd" stroke-width="1.46"/>
<polyline points="933,452 933,541" class="dd" stroke-width="1.46"/>
<polyline points="914.6,806 914.6,996" class="dd" stroke-width="1.46"/>
<polyline points="187,723 187,842" class="dd" stroke-width="1.46"/>
<text x="513.5" y="74.8" font-size="17.5" text-anchor="middle">6</text>
<text x="326.1" y="122.1" font-size="17.5" text-anchor="middle">26</text>
<text x="460" y="214.9" font-size="17.5" text-anchor="middle">25</text>
<text x="392.8" y="291.5" font-size="17.5" text-anchor="middle">6</text>
<text x="561.8" y="268.2" font-size="17.5" text-anchor="middle">8</text>
<text x="527.8" y="293.4" font-size="17.5" text-anchor="middle">8</text>
<text x="201.9" y="362.2" font-size="17.5" text-anchor="middle">13</text>
<text x="355.6" y="355.4" font-size="17.5" text-anchor="middle">23</text>
<text x="430.4" y="327.9" font-size="17.5" text-anchor="middle">28</text>
<text x="469" y="333.6" font-size="17.5" text-anchor="middle">5</text>
<text x="504.4" y="312.8" font-size="17.5" text-anchor="middle">6</text>
<text x="548.2" y="361.9" font-size="17.5" text-anchor="middle">8</text>
<text x="514.2" y="386.8" font-size="17.5" text-anchor="middle">8</text>
<text x="246" y="470.0" font-size="17.5" text-anchor="middle">27</text>
<text x="324.9" y="502.1" font-size="17.5" text-anchor="middle">3</text>
<text x="355.4" y="483.1" font-size="17.5" text-anchor="middle">4</text>
<text x="374.4" y="471.6" font-size="17.5" text-anchor="middle">5</text>
<text x="421.7" y="458.3" font-size="17.5" text-anchor="middle">5</text>
<text x="444.3" y="439.1" font-size="17.5" text-anchor="middle">6</text>
<text x="454.2" y="488.1" font-size="17.5" text-anchor="middle">4</text>
<text x="476.7" y="472.1" font-size="17.5" text-anchor="middle">5</text>
<text x="427.2" y="522.5" font-size="17.5" text-anchor="middle">17</text>
<text x="539.5" y="540.9" font-size="17.5" text-anchor="middle">6</text>
<text x="586.6" y="576.8" font-size="17.5" text-anchor="middle">15</text>
<text x="647.3" y="569.5" font-size="17.5" text-anchor="middle">6</text>
<text x="742.2" y="610.3" font-size="17.5" text-anchor="middle">16</text>
<text x="488.3" y="634.5" font-size="17.5" text-anchor="middle">18</text>
<text x="464.2" y="653.6" font-size="17.5" text-anchor="middle">19</text>
<text x="441" y="661.7" font-size="17.5" text-anchor="middle">30</text>
<text x="417.4" y="669.6" font-size="17.5" text-anchor="middle">20</text>
<text x="389.8" y="679.8" font-size="17.5" text-anchor="middle">21</text>
<text x="555.3" y="628.2" font-size="17.5" text-anchor="middle">19</text>
<text x="625" y="677.3" font-size="17.5" text-anchor="middle">18</text>
<text x="574.4" y="699.7" font-size="17.5" text-anchor="middle">30</text>
<text x="551.3" y="707.4" font-size="17.5" text-anchor="middle">20</text>
<text x="522.8" y="717.3" font-size="17.5" text-anchor="middle">21</text>
<text x="341.5" y="596.9" font-size="17.5" text-anchor="middle">14</text>
<text x="106.9" y="601.3" font-size="17.5" text-anchor="middle">10</text>
<text x="1049.4" y="639.3" font-size="17.5" text-anchor="middle">10</text>
<text x="325.5" y="763.6" font-size="17.5" text-anchor="middle">2</text>
<text x="405.8" y="726.9" font-size="17.5" text-anchor="middle">28</text>
<text x="445.7" y="734.6" font-size="17.5" text-anchor="middle">5</text>
<text x="479.7" y="716.3" font-size="17.5" text-anchor="middle">6</text>
<text x="526.4" y="740.4" font-size="17.5" text-anchor="middle">8</text>
<text x="493" y="766.0" font-size="17.5" text-anchor="middle">8</text>
<text x="408.1" y="834.5" font-size="17.5" text-anchor="middle">6</text>
<text x="385.8" y="854.5" font-size="17.5" text-anchor="middle">5</text>
<text x="452.4" y="876.1" font-size="17.5" text-anchor="middle">5</text>
<text x="430.4" y="890.4" font-size="17.5" text-anchor="middle">4</text>
<text x="400.4" y="913.4" font-size="17.5" text-anchor="middle">3</text>
<text x="244.9" y="888.8" font-size="17.5" text-anchor="middle">6</text>
<text x="328.2" y="887.8" font-size="17.5" text-anchor="middle">5</text>
<text x="308.2" y="899.4" font-size="17.5" text-anchor="middle">4</text>
<text x="279.2" y="917.8" font-size="17.5" text-anchor="middle">3</text>
<text x="319.2" y="941.1" font-size="17.5" text-anchor="middle">12</text>
<text x="152.5" y="897.8" font-size="17.5" text-anchor="middle">14</text>
<text x="181.6" y="933.4" font-size="17.5" text-anchor="middle">8</text>
<text x="215.9" y="907.8" font-size="17.5" text-anchor="middle">8</text>
<text x="258.5" y="941.2" font-size="17.5" text-anchor="middle">29</text>
<text x="257.1" y="1118.0" font-size="17.5" text-anchor="middle">9</text>
<text x="327.3" y="1105.8" font-size="17.5" text-anchor="middle">9</text>
<text x="451.1" y="996.9" font-size="17.5" text-anchor="middle">8</text>
<text x="485" y="970.3" font-size="17.5" text-anchor="middle">8</text>
<text x="857.9" y="72.5" font-size="17.5" text-anchor="middle">6</text>
<text x="721.1" y="106.2" font-size="17.5" text-anchor="middle">26</text>
<text x="822.9" y="217.7" font-size="17.5" text-anchor="middle">25</text>
<text x="765.2" y="302.0" font-size="17.5" text-anchor="middle">11</text>
<text x="864.7" y="306.3" font-size="17.5" text-anchor="middle">8</text>
<text x="830.8" y="331.3" font-size="17.5" text-anchor="middle">8</text>
<text x="716.5" y="328.9" font-size="17.5" text-anchor="middle">5</text>
<text x="693.2" y="347.9" font-size="17.5" text-anchor="middle">4</text>
<text x="664" y="375.5" font-size="17.5" text-anchor="middle">3</text>
<text x="755.8" y="369.5" font-size="17.5" text-anchor="middle">28</text>
<text x="769.8" y="377.9" font-size="17.5" text-anchor="middle">5</text>
<text x="794" y="367.3" font-size="17.5" text-anchor="middle">6</text>
<text x="706.5" y="398.8" font-size="17.5" text-anchor="middle">6</text>
<text x="681.6" y="410.2" font-size="17.5" text-anchor="middle">5</text>
<text x="981.1" y="343.4" font-size="17.5" text-anchor="middle">6</text>
<text x="845.3" y="441.4" font-size="17.5" text-anchor="middle">22</text>
<text x="658.3" y="469.4" font-size="17.5" text-anchor="middle">5</text>
<text x="635" y="488.8" font-size="17.5" text-anchor="middle">4</text>
<text x="606" y="516.1" font-size="17.5" text-anchor="middle">3</text>
<text x="745.8" y="521.1" font-size="17.5" text-anchor="middle">8</text>
<text x="711.7" y="548.3" font-size="17.5" text-anchor="middle">8</text>
<text x="822.8" y="557.4" font-size="17.5" text-anchor="middle">27</text>
<text x="786.8" y="751.0" font-size="17.5" text-anchor="middle">14</text>
<text x="750.2" y="734.6" font-size="17.5" text-anchor="middle">6</text>
<text x="698.3" y="747.1" font-size="17.5" text-anchor="middle">28</text>
<text x="716" y="756.0" font-size="17.5" text-anchor="middle">5</text>
<text x="612.5" y="762.2" font-size="17.5" text-anchor="middle">5</text>
<text x="588.6" y="780.6" font-size="17.5" text-anchor="middle">4</text>
<text x="551.1" y="816.6" font-size="17.5" text-anchor="middle">3</text>
<text x="627.6" y="817.4" font-size="17.5" text-anchor="middle">5</text>
<text x="644" y="810.1" font-size="17.5" text-anchor="middle">6</text>
<text x="854.5" y="753.1" font-size="17.5" text-anchor="middle">8</text>
<text x="820.6" y="779.0" font-size="17.5" text-anchor="middle">8</text>
<text x="807.7" y="845.6" font-size="17.5" text-anchor="middle">1</text>
<text x="542.1" y="924.5" font-size="17.5" text-anchor="middle">4</text>
<text x="565.6" y="905.0" font-size="17.5" text-anchor="middle">5</text>
<text x="512.8" y="952.6" font-size="17.5" text-anchor="middle">3</text>
<text x="600.7" y="980.8" font-size="17.5" text-anchor="middle">6</text>
<text x="784" y="965.7" font-size="17.5" text-anchor="middle">24</text>
<text x="720.3" y="985.8" font-size="17.5" text-anchor="middle">7</text>
<text x="877" y="1045.0" font-size="17.5" text-anchor="middle">14</text>
<text x="709.3" y="1195.8" font-size="17.5" text-anchor="middle">9</text>
<text x="763.4" y="1201.9" font-size="17.5" text-anchor="middle">9</text>
</svg>
</body></html>
